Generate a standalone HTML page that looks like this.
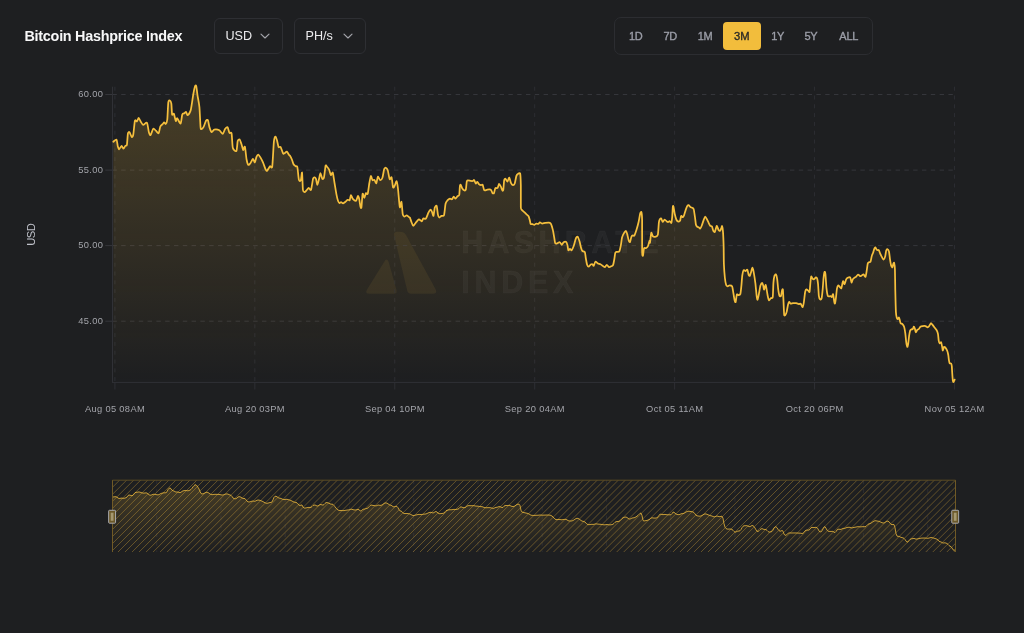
<!DOCTYPE html>
<html><head><meta charset="utf-8"><title>Bitcoin Hashprice Index</title>
<style>
html,body{margin:0;padding:0;}
body{width:1024px;height:633px;background:#1e1f21;overflow:hidden;position:relative;font-family:"Liberation Sans",sans-serif;}
.layer{position:absolute;left:0;top:0;width:1024px;height:633px;will-change:transform;}
.title{position:absolute;left:24.5px;top:27px;font-size:14.4px;font-weight:700;color:#f7f7f8;letter-spacing:-0.27px;line-height:18px;white-space:nowrap;}
.dd{position:absolute;top:18px;height:33.5px;border:1px solid #2e2f33;border-radius:6px;}
.dd span{position:absolute;left:11px;top:8.5px;font-size:12.6px;line-height:16px;color:#ececee;white-space:nowrap;}
.dd svg{position:absolute;top:12px;}
.rs{position:absolute;left:614px;top:17px;width:256.5px;height:35.5px;border:1px solid #2c2d31;border-radius:7px;}
.rs div{position:absolute;top:10.6px;font-size:11px;letter-spacing:-0.3px;line-height:14px;font-weight:400;-webkit-text-stroke:0.35px #9c9ea8;color:#9c9ea8;transform:translateX(-50%);white-space:nowrap;}
.rs .act{top:3.8px;left:107.8px;letter-spacing:0;font-size:11.2px;width:38px;height:28px;border-radius:4px;background:#f2bd3c;transform:none;-webkit-text-stroke:0}
.rs .act span{position:absolute;left:0;right:0;top:7.1px;text-align:center;color:#2b2a26;-webkit-text-stroke:0.35px #2b2a26;}
text.ax{font-family:"Liberation Sans",sans-serif;font-size:9.3px;letter-spacing:0.33px;fill:#a3a4aa;}
text.wm{font-family:"Liberation Sans",sans-serif;font-weight:bold;font-size:30.5px;letter-spacing:3.4px;fill:#ffffff;fill-opacity:0.041;stroke:#ffffff;stroke-opacity:0.041;stroke-width:0.5px;}
</style></head><body>
<div class="layer">
<svg width="1024" height="633" viewBox="0 0 1024 633" style="position:absolute;left:0;top:0">
<defs>
<linearGradient id="ag" x1="0" y1="85" x2="0" y2="382" gradientUnits="userSpaceOnUse">
<stop offset="0" stop-color="#f5bf3d" stop-opacity="0.20"/>
<stop offset="1" stop-color="#f5bf3d" stop-opacity="0"/>
</linearGradient>
<linearGradient id="ng" x1="0" y1="480" x2="0" y2="552" gradientUnits="userSpaceOnUse">
<stop offset="0" stop-color="#f5bf3d" stop-opacity="0.20"/>
<stop offset="1" stop-color="#f5bf3d" stop-opacity="0.0"/>
</linearGradient>
<clipPath id="nclip"><rect x="112.5" y="480.2" width="843.0" height="71.80000000000001"/></clipPath>
</defs>
<g id="wm">
<path d="M384.3,261.8 Q386.5,257.2 388.6,261.8 L396.6,290.5 Q397.2,293.8 394,293.8 L369.5,293.8 Q364.6,293.8 366.9,289.8 Z" fill="#f5bf3d" fill-opacity="0.075"/>
<path d="M394.3,236.2 Q392.8,231.6 397.5,231.7 L402,231.9 Q404.6,232.1 406,235 L435.6,289.3 Q437.6,293.8 433,293.8 L411,293.8 Q408,293.8 407.2,290.5 Z" fill="#f5bf3d" fill-opacity="0.075"/>
<text class="wm" x="461.2" y="252.6" style="letter-spacing:4.3px">HASHRATE</text>
<text class="wm" x="461.2" y="292.6" style="letter-spacing:4.75px">INDEX</text>
</g>
<line x1="112.4" y1="94.5" x2="955.0" y2="94.5" stroke="#35363b" stroke-width="1" stroke-dasharray="4.4 4.4"/>
<line x1="105.3" y1="94.5" x2="113.0" y2="94.5" stroke="#35363b" stroke-width="1"/>
<line x1="112.4" y1="170.1" x2="955.0" y2="170.1" stroke="#35363b" stroke-width="1" stroke-dasharray="4.4 4.4"/>
<line x1="105.3" y1="170.1" x2="113.0" y2="170.1" stroke="#35363b" stroke-width="1"/>
<line x1="112.4" y1="245.6" x2="955.0" y2="245.6" stroke="#35363b" stroke-width="1" stroke-dasharray="4.4 4.4"/>
<line x1="105.3" y1="245.6" x2="113.0" y2="245.6" stroke="#35363b" stroke-width="1"/>
<line x1="112.4" y1="321.2" x2="955.0" y2="321.2" stroke="#35363b" stroke-width="1" stroke-dasharray="4.4 4.4"/>
<line x1="105.3" y1="321.2" x2="113.0" y2="321.2" stroke="#35363b" stroke-width="1"/>
<line x1="114.9" y1="86.7" x2="114.9" y2="382.0" stroke="#2d2e33" stroke-width="1" stroke-dasharray="4 4.8"/>
<line x1="114.9" y1="382.0" x2="114.9" y2="389.5" stroke="#2d2e33" stroke-width="1.1"/>
<line x1="254.83" y1="86.7" x2="254.83" y2="382.0" stroke="#2d2e33" stroke-width="1" stroke-dasharray="4 4.8"/>
<line x1="254.83" y1="382.0" x2="254.83" y2="389.5" stroke="#2d2e33" stroke-width="1.1"/>
<line x1="394.76" y1="86.7" x2="394.76" y2="382.0" stroke="#2d2e33" stroke-width="1" stroke-dasharray="4 4.8"/>
<line x1="394.76" y1="382.0" x2="394.76" y2="389.5" stroke="#2d2e33" stroke-width="1.1"/>
<line x1="534.69" y1="86.7" x2="534.69" y2="382.0" stroke="#2d2e33" stroke-width="1" stroke-dasharray="4 4.8"/>
<line x1="534.69" y1="382.0" x2="534.69" y2="389.5" stroke="#2d2e33" stroke-width="1.1"/>
<line x1="674.62" y1="86.7" x2="674.62" y2="382.0" stroke="#2d2e33" stroke-width="1" stroke-dasharray="4 4.8"/>
<line x1="674.62" y1="382.0" x2="674.62" y2="389.5" stroke="#2d2e33" stroke-width="1.1"/>
<line x1="814.55" y1="86.7" x2="814.55" y2="382.0" stroke="#2d2e33" stroke-width="1" stroke-dasharray="4 4.8"/>
<line x1="814.55" y1="382.0" x2="814.55" y2="389.5" stroke="#2d2e33" stroke-width="1.1"/>
<line x1="954.48" y1="86.7" x2="954.48" y2="382.0" stroke="#2d2e33" stroke-width="1" stroke-dasharray="4 4.8"/>
<line x1="954.48" y1="382.0" x2="954.48" y2="389.5" stroke="#2d2e33" stroke-width="1.1"/>
<path d="M113.33,141.73 C113.71,141.47 115.97,139.04 116.50,139.57 C117.03,140.10 117.47,145.00 117.77,146.17 C118.07,147.34 118.58,149.40 119.04,149.35 C119.50,149.30 121.05,145.87 121.58,145.79 C122.11,145.71 123.03,148.71 123.49,148.71 C123.95,148.71 124.98,146.25 125.39,145.79 C125.80,145.33 126.61,146.38 126.91,144.90 C127.21,143.42 127.63,135.00 127.93,133.48 C128.23,131.96 128.99,131.80 129.45,132.21 C129.91,132.62 131.28,136.60 131.74,136.90 C132.20,137.20 132.88,136.68 133.26,134.75 C133.64,132.82 134.48,122.38 134.91,120.78 C135.34,119.18 136.36,121.75 136.82,121.42 C137.28,121.09 138.26,117.99 138.72,117.99 C139.18,117.99 140.09,120.60 140.62,121.42 C141.15,122.24 142.40,124.69 143.16,124.84 C143.92,124.99 146.28,121.81 146.97,122.69 C147.66,123.57 148.45,130.72 148.88,132.21 C149.31,133.70 150.00,135.56 150.53,135.13 C151.06,134.70 152.68,129.18 153.32,128.65 C153.96,128.12 155.22,130.13 155.86,130.68 C156.50,131.23 158.12,133.72 158.65,133.22 C159.18,132.72 159.80,127.60 160.30,126.49 C160.80,125.38 162.38,124.46 162.84,123.96 C163.30,123.46 163.76,122.30 164.11,122.30 C164.46,122.30 165.38,124.29 165.76,123.96 C166.14,123.63 166.99,122.10 167.29,119.51 C167.59,116.92 168.00,104.65 168.30,102.37 C168.60,100.09 169.45,100.32 169.82,100.47 C170.19,100.62 171.08,101.96 171.35,103.64 C171.62,105.32 171.81,113.21 172.11,114.43 C172.41,115.65 173.45,113.01 173.89,113.80 C174.33,114.59 175.39,120.51 175.79,121.04 C176.19,121.57 176.61,117.94 177.19,118.24 C177.77,118.54 180.01,124.03 180.62,123.57 C181.23,123.11 181.81,115.68 182.27,114.43 C182.73,113.18 183.96,113.46 184.42,113.16 C184.88,112.86 185.69,111.66 186.07,111.89 C186.45,112.12 187.04,115.30 187.60,115.07 C188.16,114.84 190.08,112.50 190.77,109.99 C191.46,107.48 192.81,96.94 193.31,94.12 C193.81,91.30 194.61,87.49 194.96,86.50 C195.31,85.51 195.93,84.80 196.23,85.87 C196.53,86.94 197.12,92.88 197.50,95.39 C197.88,97.90 199.03,103.01 199.40,106.82 C199.77,110.63 200.29,124.46 200.55,127.13 C200.81,129.80 201.21,129.03 201.56,129.03 C201.91,129.03 202.94,128.12 203.47,127.13 C204.00,126.14 205.48,121.62 206.01,120.78 C206.54,119.94 207.50,119.39 207.91,120.15 C208.32,120.91 208.97,125.68 209.43,127.13 C209.89,128.58 211.14,131.91 211.72,132.21 C212.30,132.51 213.35,129.90 214.26,129.67 C215.17,129.44 218.32,129.80 219.34,130.30 C220.36,130.80 222.07,134.01 222.76,133.86 C223.45,133.71 224.48,129.84 225.05,129.03 C225.62,128.22 227.01,126.68 227.54,127.14 C228.07,127.60 228.95,132.09 229.44,132.85 C229.93,133.61 231.19,131.66 231.60,133.49 C232.01,135.32 232.29,146.00 232.87,148.09 C233.45,150.18 235.85,151.72 236.43,150.88 C237.01,150.04 237.32,142.47 237.70,141.10 C238.08,139.73 239.14,139.07 239.60,139.45 C240.06,139.83 241.07,143.02 241.50,144.28 C241.93,145.54 242.74,149.69 243.15,149.99 C243.56,150.29 244.52,145.68 244.93,146.82 C245.34,147.96 246.18,157.35 246.58,159.51 C246.98,161.67 247.77,164.38 248.23,164.84 C248.69,165.30 249.83,164.04 250.39,163.32 C250.95,162.60 252.40,158.99 252.93,158.88 C253.46,158.77 254.40,162.66 254.83,162.43 C255.26,162.20 256.07,157.90 256.48,156.97 C256.89,156.04 257.77,154.61 258.26,154.69 C258.75,154.77 259.97,156.65 260.55,157.61 C261.13,158.57 262.48,161.27 263.09,162.69 C263.70,164.11 265.13,168.45 265.62,169.41 C266.11,170.37 266.62,171.06 267.15,170.68 C267.68,170.30 269.46,166.74 270.07,166.24 C270.68,165.74 271.77,169.43 272.23,166.49 C272.69,163.55 273.50,145.32 273.88,141.74 C274.26,138.16 275.02,136.81 275.40,136.66 C275.78,136.51 276.67,139.22 277.05,140.47 C277.43,141.72 278.14,146.28 278.57,147.07 C279.00,147.86 280.06,146.29 280.61,147.07 C281.16,147.85 282.65,152.81 283.14,153.54 C283.63,154.27 284.23,153.39 284.67,153.16 C285.11,152.93 286.30,151.41 286.83,151.64 C287.36,151.87 288.73,154.58 289.11,155.07 C289.49,155.56 289.67,155.18 290.00,155.71 C290.33,156.24 291.47,158.50 291.90,159.52 C292.33,160.54 293.09,163.41 293.55,164.22 C294.01,165.03 295.25,165.90 295.71,166.25 C296.17,166.60 296.98,165.51 297.36,167.14 C297.74,168.77 298.48,178.23 298.89,179.83 C299.30,181.43 300.41,181.34 300.79,180.47 C301.17,179.60 301.80,171.46 302.06,172.60 C302.32,173.74 302.65,187.64 302.95,189.99 C303.25,192.34 304.17,192.10 304.60,192.15 C305.03,192.20 306.00,190.89 306.50,190.37 C307.00,189.85 308.26,187.88 308.79,187.83 C309.32,187.78 310.43,191.10 310.95,189.99 C311.47,188.88 312.65,180.08 313.11,178.56 C313.57,177.04 314.41,177.24 314.76,177.29 C315.11,177.34 315.73,178.04 316.03,178.95 C316.33,179.86 316.94,184.88 317.29,184.91 C317.64,184.94 318.57,180.60 318.95,179.20 C319.33,177.80 320.06,173.26 320.47,173.23 C320.88,173.20 321.94,178.46 322.37,178.95 C322.80,179.44 323.64,178.86 324.02,177.29 C324.40,175.72 325.21,167.16 325.55,165.87 C325.89,164.58 326.39,166.04 326.82,166.50 C327.25,166.96 328.61,168.66 329.10,169.68 C329.59,170.70 330.44,174.66 330.88,175.01 C331.32,175.36 332.35,171.72 332.78,172.60 C333.21,173.48 334.00,179.83 334.43,182.37 C334.86,184.91 335.91,191.59 336.34,193.80 C336.77,196.01 337.61,199.67 337.99,200.78 C338.37,201.89 339.14,202.92 339.51,203.07 C339.88,203.22 340.61,202.02 341.04,202.05 C341.47,202.08 342.49,203.40 343.07,203.32 C343.65,203.24 345.30,201.85 345.86,201.42 C346.42,200.99 347.30,199.92 347.76,199.77 C348.22,199.62 349.29,200.71 349.67,200.15 C350.05,199.59 350.56,195.22 350.94,195.07 C351.32,194.92 352.23,198.19 352.84,198.88 C353.45,199.57 355.41,201.13 356.02,200.78 C356.63,200.43 357.54,196.19 357.92,195.96 C358.30,195.73 358.89,197.57 359.19,198.88 C359.49,200.19 360.19,205.89 360.46,206.88 C360.73,207.87 361.21,208.70 361.47,207.13 C361.73,205.56 362.28,194.90 362.62,193.80 C362.96,192.70 363.87,198.07 364.27,197.99 C364.67,197.91 365.51,193.66 365.92,193.16 C366.33,192.66 367.29,195.02 367.70,193.80 C368.11,192.58 368.97,185.14 369.35,183.01 C369.73,180.88 370.49,176.37 370.87,176.03 C371.25,175.69 372.09,179.75 372.52,180.21 C372.95,180.67 373.96,179.46 374.42,179.83 C374.88,180.20 375.92,183.64 376.33,183.26 C376.74,182.88 377.39,177.03 377.85,176.66 C378.31,176.29 379.59,180.09 380.14,180.21 C380.69,180.33 381.93,179.02 382.42,177.68 C382.91,176.34 383.79,170.23 384.20,169.04 C384.61,167.85 385.42,167.62 385.85,167.77 C386.28,167.92 387.29,168.94 387.75,170.31 C388.21,171.68 389.20,178.36 389.66,179.20 C390.12,180.04 391.15,176.30 391.56,177.29 C391.97,178.28 392.71,186.46 393.09,187.45 C393.47,188.44 394.31,186.31 394.74,185.55 C395.17,184.79 396.26,180.80 396.64,181.10 C397.02,181.40 397.53,184.97 397.91,188.09 C398.29,191.21 399.38,205.48 399.81,207.13 C400.24,208.78 401.11,200.96 401.46,201.80 C401.81,202.64 402.39,212.33 402.73,214.11 C403.07,215.89 403.77,216.50 404.26,216.65 C404.75,216.80 406.11,215.23 406.80,215.38 C407.49,215.53 409.59,217.63 409.97,217.92 C410.00,218.21 409.97,217.25 410.00,217.76 C410.19,218.27 411.14,221.25 411.52,222.21 C411.90,223.17 412.67,225.68 413.17,225.76 C413.67,225.84 415.02,223.60 415.71,222.84 C416.40,222.08 418.17,219.59 418.89,219.41 C419.61,219.23 421.15,221.44 421.68,221.32 C422.21,221.20 422.83,218.72 423.33,218.40 C423.83,218.08 425.26,219.34 425.87,218.65 C426.48,217.96 427.88,213.76 428.41,212.69 C428.94,211.62 429.90,209.92 430.31,209.77 C430.72,209.62 431.46,210.69 431.84,211.42 C432.22,212.15 433.14,216.32 433.49,215.86 C433.84,215.40 434.38,208.80 434.76,207.61 C435.14,206.42 436.28,205.12 436.66,205.96 C437.04,206.80 437.63,213.20 437.93,214.59 C438.23,215.98 438.77,217.36 439.20,217.51 C439.63,217.66 440.90,216.13 441.48,215.86 C442.06,215.59 443.53,216.67 444.02,215.22 C444.51,213.77 445.14,205.58 445.55,203.80 C445.96,202.02 446.92,200.98 447.45,200.37 C447.98,199.76 449.46,198.84 449.99,198.72 C450.52,198.60 451.43,199.62 451.89,199.36 C452.35,199.10 453.37,196.64 453.80,196.56 C454.23,196.48 454.99,198.77 455.45,198.72 C455.91,198.67 457.15,196.64 457.61,196.18 C458.07,195.72 458.99,196.13 459.26,194.91 C459.53,193.69 459.71,187.25 459.89,186.03 C460.07,184.81 460.49,184.46 460.78,184.76 C461.07,185.06 461.87,187.87 462.30,188.56 C462.73,189.25 463.91,190.36 464.34,190.47 C464.77,190.58 465.57,190.52 465.86,189.45 C466.15,188.38 466.52,182.68 466.75,181.58 C466.98,180.48 467.26,180.39 467.76,180.31 C468.26,180.23 470.33,180.87 470.94,180.95 C471.55,181.03 472.46,181.06 472.84,180.95 C473.22,180.84 473.76,179.76 474.11,180.06 C474.46,180.36 475.38,183.28 475.76,183.49 C476.14,183.70 476.88,181.73 477.29,181.84 C477.70,181.95 478.73,183.98 479.19,184.38 C479.65,184.78 480.68,185.09 481.09,185.14 C481.50,185.19 482.24,184.15 482.62,184.76 C483.00,185.37 483.77,189.60 484.27,190.21 C484.77,190.82 486.20,189.92 486.81,189.83 C487.42,189.74 488.82,189.40 489.35,189.45 C489.88,189.50 490.87,189.75 491.25,190.21 C491.63,190.67 492.19,192.92 492.52,193.26 C492.85,193.60 493.71,193.62 494.04,193.01 C494.37,192.40 494.88,188.79 495.31,188.18 C495.74,187.57 497.14,188.45 497.60,187.93 C498.06,187.41 498.74,184.05 499.12,183.87 C499.50,183.69 500.37,185.62 500.77,186.41 C501.17,187.20 502.12,190.06 502.42,190.47 C502.72,190.88 503.10,191.08 503.31,189.83 C503.52,188.58 503.94,181.38 504.20,180.06 C504.46,178.74 505.07,178.61 505.47,178.79 C505.87,178.97 507.04,181.73 507.50,181.58 C507.96,181.43 508.87,177.37 509.28,177.52 C509.69,177.67 510.50,181.94 510.93,182.85 C511.36,183.76 512.37,185.06 512.83,185.14 C513.29,185.22 514.31,184.60 514.74,183.49 C515.17,182.38 515.98,177.04 516.39,175.87 C516.80,174.70 517.70,173.97 518.16,173.71 C518.62,173.45 519.88,172.31 520.20,173.71 C520.52,175.11 520.75,181.40 520.83,185.39 C520.83,189.38 520.83,204.04 520.83,206.97 C520.94,209.90 521.31,209.16 521.72,209.77 C522.13,210.38 523.68,211.50 524.26,212.05 C524.84,212.60 526.01,213.81 526.54,214.34 C527.07,214.87 528.29,215.70 528.70,216.49 C529.11,217.28 529.74,220.04 529.97,220.94 C530.20,221.84 530.32,223.56 530.63,223.95 C530.94,224.34 532.08,224.09 532.54,224.20 C533.00,224.31 533.98,224.91 534.44,224.83 C534.90,224.75 535.89,223.67 536.35,223.56 C536.81,223.45 537.82,224.10 538.25,223.95 C538.68,223.80 539.44,222.34 539.90,222.29 C540.36,222.24 541.42,223.48 542.06,223.56 C542.70,223.64 544.39,223.04 545.23,222.93 C546.07,222.82 548.35,222.56 549.04,222.68 C549.73,222.80 550.49,223.08 550.95,223.95 C551.41,224.82 552.47,228.36 552.85,229.91 C553.23,231.46 553.85,235.32 554.12,236.89 C554.39,238.46 554.84,242.18 555.14,242.99 C555.44,243.80 556.10,243.71 556.66,243.62 C557.22,243.53 559.22,242.08 559.83,242.23 C560.44,242.38 561.28,244.89 561.74,244.89 C562.20,244.89 563.11,242.58 563.64,242.23 C564.17,241.88 565.72,241.62 566.18,241.97 C566.64,242.32 567.19,244.16 567.45,245.15 C567.71,246.14 568.04,249.76 568.34,250.22 C568.64,250.68 569.59,248.96 569.99,248.96 C570.39,248.96 571.18,250.60 571.64,250.22 C572.10,249.84 573.28,247.23 573.80,245.78 C574.32,244.33 575.50,239.26 575.96,238.16 C576.42,237.06 577.18,236.26 577.61,236.64 C578.04,237.02 579.10,240.01 579.51,241.34 C579.92,242.67 580.71,246.55 581.04,247.69 C581.37,248.83 581.84,250.33 582.30,250.86 C582.76,251.39 584.41,251.22 584.84,252.13 C585.27,253.04 585.59,256.96 585.86,258.48 C586.13,260.00 586.80,263.83 587.13,264.82 C587.46,265.81 588.22,266.76 588.65,266.73 C589.08,266.70 590.22,264.87 590.68,264.57 C591.14,264.27 592.09,264.04 592.46,264.19 C592.83,264.34 593.38,266.14 593.73,265.84 C594.08,265.54 594.88,261.92 595.38,261.65 C595.88,261.38 597.31,263.25 597.92,263.55 C598.53,263.85 599.85,263.89 600.46,264.19 C601.07,264.49 602.47,265.74 603.00,266.09 C603.53,266.44 604.44,267.26 604.90,267.11 C605.36,266.96 606.32,264.82 606.81,264.82 C607.30,264.82 608.43,266.93 608.96,267.11 C609.49,267.29 610.75,266.62 611.25,266.35 C611.75,266.08 612.77,265.76 613.15,264.82 C613.53,263.88 614.16,259.93 614.42,258.48 C614.68,257.03 615.01,253.55 615.31,252.76 C615.61,251.97 616.49,252.03 616.96,251.88 C617.43,251.73 618.79,252.22 619.25,251.49 C619.71,250.76 620.44,247.46 620.77,245.78 C621.10,244.10 621.66,239.05 622.04,237.53 C622.42,236.01 623.49,233.88 623.95,233.09 C624.41,232.30 625.47,230.85 625.85,230.93 C626.23,231.01 626.77,232.55 627.12,233.72 C627.47,234.89 628.42,239.71 628.77,240.70 C629.12,241.69 629.71,242.50 630.04,241.97 C630.37,241.44 631.19,237.05 631.56,236.26 C631.93,235.47 632.75,235.45 633.09,235.37 C633.43,235.29 633.93,236.35 634.36,235.62 C634.79,234.89 636.14,230.88 636.64,229.28 C637.14,227.68 638.11,224.19 638.54,222.29 C638.97,220.39 639.85,214.63 640.20,213.41 C640.55,212.19 641.23,211.38 641.46,212.14 C641.69,212.90 642.02,214.96 642.10,219.76 C642.15,224.56 642.10,247.82 642.15,252.13 C642.26,256.44 642.77,256.14 642.99,255.68 C643.21,255.22 643.62,249.23 644.00,248.32 C644.38,247.41 645.67,248.37 646.16,248.07 C646.65,247.77 647.66,246.66 648.07,245.78 C648.48,244.90 649.36,241.08 649.59,240.70 C649.82,240.32 649.80,243.55 650.00,242.61 C650.20,241.67 650.94,233.59 651.27,232.83 C651.60,232.07 652.26,235.80 652.79,236.26 C653.32,236.72 655.10,236.84 655.71,236.64 C656.32,236.44 657.49,236.33 657.87,234.61 C658.25,232.89 658.65,224.15 658.89,222.29 C659.13,220.43 659.63,219.58 659.90,219.12 C660.17,218.66 660.83,218.16 661.17,218.49 C661.51,218.82 662.29,221.79 662.70,221.91 C663.11,222.03 664.11,219.56 664.60,219.50 C665.09,219.44 666.35,221.11 666.76,221.41 C667.17,221.71 667.68,222.09 668.03,222.04 C668.38,221.99 669.28,220.92 669.68,221.03 C670.08,221.14 671.03,223.46 671.33,222.93 C671.63,222.40 672.04,218.53 672.22,216.58 C672.40,214.63 672.70,207.87 672.85,206.68 C673.00,205.49 673.26,205.80 673.49,206.68 C673.72,207.56 674.41,212.47 674.76,214.04 C675.11,215.61 675.95,218.85 676.41,219.76 C676.87,220.67 678.10,221.58 678.56,221.66 C679.02,221.74 679.91,221.08 680.21,220.39 C680.51,219.70 680.80,216.33 681.10,215.95 C681.40,215.57 682.40,217.30 682.75,217.22 C683.10,217.14 683.65,216.22 684.02,215.31 C684.39,214.40 685.39,210.74 685.80,209.60 C686.21,208.46 687.10,206.32 687.45,205.79 C687.80,205.26 688.37,205.01 688.72,205.16 C689.07,205.31 689.91,206.73 690.37,207.06 C690.83,207.39 692.12,207.65 692.53,207.95 C692.94,208.25 693.50,208.41 693.80,209.60 C694.10,210.79 694.81,216.02 695.07,217.85 C695.33,219.68 695.70,223.76 695.96,224.83 C696.22,225.90 696.88,226.44 697.23,226.74 C697.58,227.04 698.53,227.14 698.88,227.37 C699.23,227.60 699.80,228.87 700.15,228.64 C700.50,228.41 701.34,226.61 701.80,225.47 C702.26,224.33 703.55,220.19 703.96,219.12 C704.37,218.05 704.87,216.58 705.22,216.58 C705.57,216.58 706.47,218.36 706.88,219.12 C707.29,219.88 708.24,222.12 708.65,222.93 C709.06,223.74 709.90,225.42 710.30,225.85 C710.70,226.28 711.60,225.92 711.95,226.48 C712.30,227.04 712.88,229.88 713.22,230.55 C713.56,231.22 714.41,232.37 714.75,232.07 C715.09,231.77 715.76,228.76 716.02,228.01 C716.28,227.26 716.60,225.62 716.90,225.85 C717.20,226.08 718.17,229.32 718.55,229.91 C718.93,230.50 719.74,231.03 720.08,230.80 C720.42,230.57 721.11,228.57 721.35,228.01 C721.59,227.45 721.91,225.64 722.11,226.10 C722.31,226.56 722.82,229.46 723.00,231.82 C723.18,234.18 723.52,241.91 723.63,245.78 C723.74,249.65 723.74,260.17 723.89,264.04 C724.04,267.91 724.63,275.50 724.90,278.01 C725.17,280.52 725.83,284.00 726.17,284.99 C726.51,285.98 727.29,286.21 727.70,286.26 C728.11,286.31 729.07,285.37 729.60,285.37 C730.13,285.37 731.68,285.32 732.14,286.26 C732.60,287.20 733.11,291.52 733.41,293.24 C733.71,294.96 734.41,299.57 734.68,300.61 C734.95,301.65 735.43,302.61 735.69,301.88 C735.95,301.15 736.50,295.32 736.84,294.51 C737.18,293.70 738.06,295.23 738.49,295.15 C738.92,295.07 740.04,295.02 740.39,293.88 C740.74,292.74 741.18,287.83 741.41,285.62 C741.64,283.41 742.03,277.33 742.29,275.47 C742.55,273.61 743.18,270.67 743.56,270.14 C743.94,269.61 745.01,271.08 745.47,271.03 C745.93,270.98 746.99,269.30 747.37,269.76 C747.75,270.22 748.34,274.11 748.64,274.83 C748.94,275.55 749.61,276.10 749.91,275.72 C750.21,275.34 750.88,272.63 751.18,271.66 C751.48,270.69 752.15,267.52 752.45,267.60 C752.75,267.68 753.37,270.43 753.72,272.29 C754.07,274.15 755.02,280.27 755.37,283.09 C755.72,285.91 756.38,293.77 756.64,295.78 C756.90,297.79 757.27,299.99 757.53,299.84 C757.79,299.69 758.45,296.22 758.80,294.51 C759.15,292.80 760.04,287.02 760.45,285.62 C760.86,284.22 761.90,282.83 762.23,282.83 C762.56,282.83 763.01,284.80 763.24,285.62 C763.47,286.44 763.86,289.77 764.13,289.69 C764.40,289.61 765.26,285.17 765.53,284.99 C765.80,284.81 766.16,286.87 766.42,288.16 C766.68,289.45 767.39,294.33 767.69,295.78 C767.99,297.23 768.58,299.95 768.96,300.22 C769.34,300.49 770.40,298.45 770.86,298.07 C771.32,297.69 772.46,298.85 772.76,297.05 C773.06,295.25 773.20,285.60 773.40,283.09 C773.60,280.58 774.11,277.14 774.41,276.10 C774.71,275.06 775.60,274.07 775.94,274.45 C776.28,274.83 776.94,277.48 777.21,279.28 C777.48,281.08 777.95,287.45 778.22,289.43 C778.49,291.41 779.15,295.02 779.49,295.78 C779.83,296.54 780.72,296.42 781.02,295.78 C781.32,295.14 781.80,291.18 782.03,290.45 C782.26,289.72 782.74,288.29 782.92,289.69 C783.10,291.09 783.40,299.11 783.55,302.13 C783.70,305.15 783.96,313.30 784.19,314.82 C784.42,316.34 785.16,315.20 785.46,314.82 C785.76,314.44 786.43,312.87 786.73,311.65 C787.03,310.43 787.70,305.84 788.00,304.67 C788.30,303.50 788.97,302.00 789.27,301.88 C789.57,301.76 790.08,303.50 790.54,303.65 C791.00,303.80 792.39,303.20 793.08,303.14 C793.77,303.08 795.56,303.03 796.25,303.14 C796.94,303.25 798.26,303.95 798.79,304.03 C799.32,304.11 800.23,303.40 800.69,303.78 C801.15,304.16 802.22,307.41 802.60,307.21 C802.98,307.01 803.57,303.96 803.87,302.13 C804.17,300.30 804.84,293.49 805.14,291.97 C805.44,290.45 806.03,289.58 806.41,289.43 C806.79,289.28 807.93,290.43 808.31,290.70 C808.69,290.97 809.32,292.79 809.58,291.72 C809.84,290.65 810.27,283.65 810.47,281.82 C810.67,279.99 810.99,276.86 811.23,276.48 C811.47,276.10 812.17,278.30 812.50,278.64 C812.83,278.98 813.61,279.43 814.02,279.28 C814.43,279.13 815.55,277.45 815.93,277.37 C816.31,277.29 816.94,277.80 817.20,278.64 C817.46,279.48 817.89,282.30 818.09,284.36 C818.29,286.42 818.61,293.98 818.85,295.78 C819.09,297.58 819.79,299.04 820.12,299.34 C820.45,299.64 821.34,299.51 821.64,298.32 C821.94,297.13 822.43,291.87 822.66,289.43 C822.89,286.99 823.31,280.11 823.54,278.01 C823.77,275.91 824.33,272.37 824.56,271.91 C824.79,271.45 825.22,272.25 825.45,274.20 C825.68,276.15 826.19,285.57 826.46,288.16 C826.73,290.75 827.39,294.79 827.73,295.78 C828.07,296.77 828.92,296.39 829.26,296.42 C829.60,296.45 830.23,295.96 830.53,296.04 C830.83,296.12 831.50,297.26 831.80,297.05 C832.10,296.84 832.77,293.65 833.07,294.26 C833.37,294.87 834.11,301.02 834.34,302.13 C834.57,303.24 834.80,304.08 835.00,303.48 C835.20,302.88 835.79,298.88 836.02,297.13 C836.25,295.38 836.64,290.28 836.90,288.88 C837.16,287.48 837.82,285.68 838.17,285.45 C838.52,285.22 839.44,286.64 839.82,286.97 C840.20,287.30 841.01,288.77 841.35,288.24 C841.69,287.71 842.39,283.37 842.62,282.53 C842.85,281.69 843.02,281.06 843.25,281.26 C843.48,281.46 844.17,284.41 844.52,284.18 C844.87,283.95 845.79,280.12 846.17,279.36 C846.55,278.60 847.21,278.06 847.70,277.83 C848.19,277.60 849.77,276.89 850.23,277.45 C850.69,278.01 851.20,282.30 851.50,282.53 C851.80,282.76 852.47,279.89 852.77,279.36 C853.07,278.83 853.66,278.39 854.04,278.09 C854.42,277.79 855.46,277.25 855.95,276.82 C856.44,276.39 857.61,274.61 858.11,274.53 C858.61,274.45 859.71,276.06 860.14,276.18 C860.57,276.30 861.25,275.78 861.66,275.55 C862.07,275.32 863.10,274.13 863.56,274.28 C864.02,274.43 865.09,277.28 865.47,276.82 C865.85,276.36 866.47,272.07 866.74,270.47 C867.01,268.87 867.48,264.48 867.75,263.49 C868.02,262.50 868.68,262.45 869.02,262.22 C869.36,261.99 870.21,262.34 870.55,261.58 C870.89,260.82 871.52,256.94 871.82,255.87 C872.12,254.80 872.79,253.57 873.09,252.70 C873.39,251.83 874.09,249.27 874.36,248.63 C874.63,247.99 875.07,247.21 875.37,247.36 C875.67,247.51 876.48,249.56 876.89,249.90 C877.30,250.24 878.42,249.75 878.80,250.16 C879.18,250.57 879.69,252.49 880.07,253.33 C880.45,254.17 881.54,256.38 881.97,257.14 C882.40,257.90 883.24,259.76 883.62,259.68 C884.00,259.60 884.85,257.57 885.15,256.50 C885.45,255.43 885.90,251.67 886.16,250.79 C886.42,249.91 886.96,249.06 887.30,249.14 C887.64,249.22 888.64,250.24 888.96,251.43 C889.28,252.62 889.71,257.36 889.97,259.04 C890.23,260.72 890.82,264.40 891.11,265.39 C891.40,266.38 892.11,267.52 892.38,267.29 C892.65,267.06 893.19,264.02 893.40,263.49 C893.61,262.96 893.98,262.16 894.16,262.85 C894.34,263.54 894.78,265.85 894.92,269.20 C895.06,272.55 895.18,285.63 895.30,290.78 C895.42,295.93 895.74,308.87 895.92,312.11 C896.10,315.35 896.56,316.95 896.78,317.80 C897.00,318.65 897.51,319.25 897.77,319.22 C898.03,319.19 898.65,317.34 898.91,317.51 C899.17,317.68 899.70,319.96 899.91,320.64 C900.12,321.32 900.31,322.77 900.62,323.20 C900.93,323.63 902.03,323.73 902.46,324.19 C902.89,324.65 903.83,325.93 904.17,327.04 C904.51,328.15 905.05,331.56 905.31,333.44 C905.57,335.32 906.06,341.06 906.30,342.68 C906.54,344.30 907.08,346.77 907.30,346.94 C907.52,347.11 907.93,345.46 908.15,344.10 C908.37,342.74 908.91,337.19 909.15,335.57 C909.39,333.95 909.85,331.36 910.14,330.59 C910.43,329.82 911.25,329.34 911.56,329.17 C911.87,329.00 912.43,329.48 912.70,329.17 C912.97,328.86 913.58,326.70 913.84,326.61 C914.10,326.52 914.59,327.78 914.83,328.46 C915.07,329.14 915.54,332.13 915.83,332.30 C916.12,332.47 916.91,330.26 917.25,329.88 C917.59,329.50 918.28,329.56 918.67,329.17 C919.06,328.78 920.04,326.99 920.52,326.61 C921.00,326.23 922.05,326.11 922.65,326.04 C923.25,325.97 924.90,325.87 925.50,326.04 C926.10,326.21 927.20,327.43 927.63,327.46 C928.06,327.49 928.66,326.84 929.05,326.33 C929.44,325.82 930.47,323.37 930.90,323.20 C931.33,323.03 932.15,324.36 932.61,324.91 C933.07,325.46 934.23,327.07 934.74,327.75 C935.25,328.43 936.48,329.82 936.87,330.59 C937.26,331.36 937.79,332.95 938.01,334.15 C938.23,335.35 938.51,339.44 938.72,340.55 C938.93,341.66 939.43,343.19 939.72,343.39 C940.01,343.59 940.83,341.74 941.14,342.25 C941.45,342.76 942.07,346.66 942.27,347.65 C942.47,348.64 942.63,350.59 942.84,350.50 C943.05,350.41 943.67,347.28 943.98,346.94 C944.29,346.60 945.02,347.22 945.40,347.65 C945.78,348.08 946.77,349.65 947.11,350.50 C947.45,351.35 948.03,353.57 948.25,354.76 C948.47,355.95 948.79,359.43 948.96,360.45 C949.13,361.47 949.41,362.91 949.67,363.29 C949.93,363.67 950.83,363.24 951.09,363.58 C951.35,363.92 951.66,364.98 951.80,366.14 C951.94,367.30 952.11,371.54 952.23,373.25 C952.35,374.96 952.65,379.30 952.80,380.36 C952.95,381.42 953.29,382.15 953.51,382.06 C953.73,381.97 954.50,379.93 954.64,379.64 L954.64,382.0 L113.33,382.0 Z" fill="url(#ag)"/>
<line x1="112.5" y1="86.7" x2="112.5" y2="382.8" stroke="#303136" stroke-width="1"/>
<line x1="112" y1="382.4" x2="955.0" y2="382.4" stroke="#303136" stroke-width="1"/>
<path d="M113.33,141.73 C113.71,141.47 115.97,139.04 116.50,139.57 C117.03,140.10 117.47,145.00 117.77,146.17 C118.07,147.34 118.58,149.40 119.04,149.35 C119.50,149.30 121.05,145.87 121.58,145.79 C122.11,145.71 123.03,148.71 123.49,148.71 C123.95,148.71 124.98,146.25 125.39,145.79 C125.80,145.33 126.61,146.38 126.91,144.90 C127.21,143.42 127.63,135.00 127.93,133.48 C128.23,131.96 128.99,131.80 129.45,132.21 C129.91,132.62 131.28,136.60 131.74,136.90 C132.20,137.20 132.88,136.68 133.26,134.75 C133.64,132.82 134.48,122.38 134.91,120.78 C135.34,119.18 136.36,121.75 136.82,121.42 C137.28,121.09 138.26,117.99 138.72,117.99 C139.18,117.99 140.09,120.60 140.62,121.42 C141.15,122.24 142.40,124.69 143.16,124.84 C143.92,124.99 146.28,121.81 146.97,122.69 C147.66,123.57 148.45,130.72 148.88,132.21 C149.31,133.70 150.00,135.56 150.53,135.13 C151.06,134.70 152.68,129.18 153.32,128.65 C153.96,128.12 155.22,130.13 155.86,130.68 C156.50,131.23 158.12,133.72 158.65,133.22 C159.18,132.72 159.80,127.60 160.30,126.49 C160.80,125.38 162.38,124.46 162.84,123.96 C163.30,123.46 163.76,122.30 164.11,122.30 C164.46,122.30 165.38,124.29 165.76,123.96 C166.14,123.63 166.99,122.10 167.29,119.51 C167.59,116.92 168.00,104.65 168.30,102.37 C168.60,100.09 169.45,100.32 169.82,100.47 C170.19,100.62 171.08,101.96 171.35,103.64 C171.62,105.32 171.81,113.21 172.11,114.43 C172.41,115.65 173.45,113.01 173.89,113.80 C174.33,114.59 175.39,120.51 175.79,121.04 C176.19,121.57 176.61,117.94 177.19,118.24 C177.77,118.54 180.01,124.03 180.62,123.57 C181.23,123.11 181.81,115.68 182.27,114.43 C182.73,113.18 183.96,113.46 184.42,113.16 C184.88,112.86 185.69,111.66 186.07,111.89 C186.45,112.12 187.04,115.30 187.60,115.07 C188.16,114.84 190.08,112.50 190.77,109.99 C191.46,107.48 192.81,96.94 193.31,94.12 C193.81,91.30 194.61,87.49 194.96,86.50 C195.31,85.51 195.93,84.80 196.23,85.87 C196.53,86.94 197.12,92.88 197.50,95.39 C197.88,97.90 199.03,103.01 199.40,106.82 C199.77,110.63 200.29,124.46 200.55,127.13 C200.81,129.80 201.21,129.03 201.56,129.03 C201.91,129.03 202.94,128.12 203.47,127.13 C204.00,126.14 205.48,121.62 206.01,120.78 C206.54,119.94 207.50,119.39 207.91,120.15 C208.32,120.91 208.97,125.68 209.43,127.13 C209.89,128.58 211.14,131.91 211.72,132.21 C212.30,132.51 213.35,129.90 214.26,129.67 C215.17,129.44 218.32,129.80 219.34,130.30 C220.36,130.80 222.07,134.01 222.76,133.86 C223.45,133.71 224.48,129.84 225.05,129.03 C225.62,128.22 227.01,126.68 227.54,127.14 C228.07,127.60 228.95,132.09 229.44,132.85 C229.93,133.61 231.19,131.66 231.60,133.49 C232.01,135.32 232.29,146.00 232.87,148.09 C233.45,150.18 235.85,151.72 236.43,150.88 C237.01,150.04 237.32,142.47 237.70,141.10 C238.08,139.73 239.14,139.07 239.60,139.45 C240.06,139.83 241.07,143.02 241.50,144.28 C241.93,145.54 242.74,149.69 243.15,149.99 C243.56,150.29 244.52,145.68 244.93,146.82 C245.34,147.96 246.18,157.35 246.58,159.51 C246.98,161.67 247.77,164.38 248.23,164.84 C248.69,165.30 249.83,164.04 250.39,163.32 C250.95,162.60 252.40,158.99 252.93,158.88 C253.46,158.77 254.40,162.66 254.83,162.43 C255.26,162.20 256.07,157.90 256.48,156.97 C256.89,156.04 257.77,154.61 258.26,154.69 C258.75,154.77 259.97,156.65 260.55,157.61 C261.13,158.57 262.48,161.27 263.09,162.69 C263.70,164.11 265.13,168.45 265.62,169.41 C266.11,170.37 266.62,171.06 267.15,170.68 C267.68,170.30 269.46,166.74 270.07,166.24 C270.68,165.74 271.77,169.43 272.23,166.49 C272.69,163.55 273.50,145.32 273.88,141.74 C274.26,138.16 275.02,136.81 275.40,136.66 C275.78,136.51 276.67,139.22 277.05,140.47 C277.43,141.72 278.14,146.28 278.57,147.07 C279.00,147.86 280.06,146.29 280.61,147.07 C281.16,147.85 282.65,152.81 283.14,153.54 C283.63,154.27 284.23,153.39 284.67,153.16 C285.11,152.93 286.30,151.41 286.83,151.64 C287.36,151.87 288.73,154.58 289.11,155.07 C289.49,155.56 289.67,155.18 290.00,155.71 C290.33,156.24 291.47,158.50 291.90,159.52 C292.33,160.54 293.09,163.41 293.55,164.22 C294.01,165.03 295.25,165.90 295.71,166.25 C296.17,166.60 296.98,165.51 297.36,167.14 C297.74,168.77 298.48,178.23 298.89,179.83 C299.30,181.43 300.41,181.34 300.79,180.47 C301.17,179.60 301.80,171.46 302.06,172.60 C302.32,173.74 302.65,187.64 302.95,189.99 C303.25,192.34 304.17,192.10 304.60,192.15 C305.03,192.20 306.00,190.89 306.50,190.37 C307.00,189.85 308.26,187.88 308.79,187.83 C309.32,187.78 310.43,191.10 310.95,189.99 C311.47,188.88 312.65,180.08 313.11,178.56 C313.57,177.04 314.41,177.24 314.76,177.29 C315.11,177.34 315.73,178.04 316.03,178.95 C316.33,179.86 316.94,184.88 317.29,184.91 C317.64,184.94 318.57,180.60 318.95,179.20 C319.33,177.80 320.06,173.26 320.47,173.23 C320.88,173.20 321.94,178.46 322.37,178.95 C322.80,179.44 323.64,178.86 324.02,177.29 C324.40,175.72 325.21,167.16 325.55,165.87 C325.89,164.58 326.39,166.04 326.82,166.50 C327.25,166.96 328.61,168.66 329.10,169.68 C329.59,170.70 330.44,174.66 330.88,175.01 C331.32,175.36 332.35,171.72 332.78,172.60 C333.21,173.48 334.00,179.83 334.43,182.37 C334.86,184.91 335.91,191.59 336.34,193.80 C336.77,196.01 337.61,199.67 337.99,200.78 C338.37,201.89 339.14,202.92 339.51,203.07 C339.88,203.22 340.61,202.02 341.04,202.05 C341.47,202.08 342.49,203.40 343.07,203.32 C343.65,203.24 345.30,201.85 345.86,201.42 C346.42,200.99 347.30,199.92 347.76,199.77 C348.22,199.62 349.29,200.71 349.67,200.15 C350.05,199.59 350.56,195.22 350.94,195.07 C351.32,194.92 352.23,198.19 352.84,198.88 C353.45,199.57 355.41,201.13 356.02,200.78 C356.63,200.43 357.54,196.19 357.92,195.96 C358.30,195.73 358.89,197.57 359.19,198.88 C359.49,200.19 360.19,205.89 360.46,206.88 C360.73,207.87 361.21,208.70 361.47,207.13 C361.73,205.56 362.28,194.90 362.62,193.80 C362.96,192.70 363.87,198.07 364.27,197.99 C364.67,197.91 365.51,193.66 365.92,193.16 C366.33,192.66 367.29,195.02 367.70,193.80 C368.11,192.58 368.97,185.14 369.35,183.01 C369.73,180.88 370.49,176.37 370.87,176.03 C371.25,175.69 372.09,179.75 372.52,180.21 C372.95,180.67 373.96,179.46 374.42,179.83 C374.88,180.20 375.92,183.64 376.33,183.26 C376.74,182.88 377.39,177.03 377.85,176.66 C378.31,176.29 379.59,180.09 380.14,180.21 C380.69,180.33 381.93,179.02 382.42,177.68 C382.91,176.34 383.79,170.23 384.20,169.04 C384.61,167.85 385.42,167.62 385.85,167.77 C386.28,167.92 387.29,168.94 387.75,170.31 C388.21,171.68 389.20,178.36 389.66,179.20 C390.12,180.04 391.15,176.30 391.56,177.29 C391.97,178.28 392.71,186.46 393.09,187.45 C393.47,188.44 394.31,186.31 394.74,185.55 C395.17,184.79 396.26,180.80 396.64,181.10 C397.02,181.40 397.53,184.97 397.91,188.09 C398.29,191.21 399.38,205.48 399.81,207.13 C400.24,208.78 401.11,200.96 401.46,201.80 C401.81,202.64 402.39,212.33 402.73,214.11 C403.07,215.89 403.77,216.50 404.26,216.65 C404.75,216.80 406.11,215.23 406.80,215.38 C407.49,215.53 409.59,217.63 409.97,217.92 C410.00,218.21 409.97,217.25 410.00,217.76 C410.19,218.27 411.14,221.25 411.52,222.21 C411.90,223.17 412.67,225.68 413.17,225.76 C413.67,225.84 415.02,223.60 415.71,222.84 C416.40,222.08 418.17,219.59 418.89,219.41 C419.61,219.23 421.15,221.44 421.68,221.32 C422.21,221.20 422.83,218.72 423.33,218.40 C423.83,218.08 425.26,219.34 425.87,218.65 C426.48,217.96 427.88,213.76 428.41,212.69 C428.94,211.62 429.90,209.92 430.31,209.77 C430.72,209.62 431.46,210.69 431.84,211.42 C432.22,212.15 433.14,216.32 433.49,215.86 C433.84,215.40 434.38,208.80 434.76,207.61 C435.14,206.42 436.28,205.12 436.66,205.96 C437.04,206.80 437.63,213.20 437.93,214.59 C438.23,215.98 438.77,217.36 439.20,217.51 C439.63,217.66 440.90,216.13 441.48,215.86 C442.06,215.59 443.53,216.67 444.02,215.22 C444.51,213.77 445.14,205.58 445.55,203.80 C445.96,202.02 446.92,200.98 447.45,200.37 C447.98,199.76 449.46,198.84 449.99,198.72 C450.52,198.60 451.43,199.62 451.89,199.36 C452.35,199.10 453.37,196.64 453.80,196.56 C454.23,196.48 454.99,198.77 455.45,198.72 C455.91,198.67 457.15,196.64 457.61,196.18 C458.07,195.72 458.99,196.13 459.26,194.91 C459.53,193.69 459.71,187.25 459.89,186.03 C460.07,184.81 460.49,184.46 460.78,184.76 C461.07,185.06 461.87,187.87 462.30,188.56 C462.73,189.25 463.91,190.36 464.34,190.47 C464.77,190.58 465.57,190.52 465.86,189.45 C466.15,188.38 466.52,182.68 466.75,181.58 C466.98,180.48 467.26,180.39 467.76,180.31 C468.26,180.23 470.33,180.87 470.94,180.95 C471.55,181.03 472.46,181.06 472.84,180.95 C473.22,180.84 473.76,179.76 474.11,180.06 C474.46,180.36 475.38,183.28 475.76,183.49 C476.14,183.70 476.88,181.73 477.29,181.84 C477.70,181.95 478.73,183.98 479.19,184.38 C479.65,184.78 480.68,185.09 481.09,185.14 C481.50,185.19 482.24,184.15 482.62,184.76 C483.00,185.37 483.77,189.60 484.27,190.21 C484.77,190.82 486.20,189.92 486.81,189.83 C487.42,189.74 488.82,189.40 489.35,189.45 C489.88,189.50 490.87,189.75 491.25,190.21 C491.63,190.67 492.19,192.92 492.52,193.26 C492.85,193.60 493.71,193.62 494.04,193.01 C494.37,192.40 494.88,188.79 495.31,188.18 C495.74,187.57 497.14,188.45 497.60,187.93 C498.06,187.41 498.74,184.05 499.12,183.87 C499.50,183.69 500.37,185.62 500.77,186.41 C501.17,187.20 502.12,190.06 502.42,190.47 C502.72,190.88 503.10,191.08 503.31,189.83 C503.52,188.58 503.94,181.38 504.20,180.06 C504.46,178.74 505.07,178.61 505.47,178.79 C505.87,178.97 507.04,181.73 507.50,181.58 C507.96,181.43 508.87,177.37 509.28,177.52 C509.69,177.67 510.50,181.94 510.93,182.85 C511.36,183.76 512.37,185.06 512.83,185.14 C513.29,185.22 514.31,184.60 514.74,183.49 C515.17,182.38 515.98,177.04 516.39,175.87 C516.80,174.70 517.70,173.97 518.16,173.71 C518.62,173.45 519.88,172.31 520.20,173.71 C520.52,175.11 520.75,181.40 520.83,185.39 C520.83,189.38 520.83,204.04 520.83,206.97 C520.94,209.90 521.31,209.16 521.72,209.77 C522.13,210.38 523.68,211.50 524.26,212.05 C524.84,212.60 526.01,213.81 526.54,214.34 C527.07,214.87 528.29,215.70 528.70,216.49 C529.11,217.28 529.74,220.04 529.97,220.94 C530.20,221.84 530.32,223.56 530.63,223.95 C530.94,224.34 532.08,224.09 532.54,224.20 C533.00,224.31 533.98,224.91 534.44,224.83 C534.90,224.75 535.89,223.67 536.35,223.56 C536.81,223.45 537.82,224.10 538.25,223.95 C538.68,223.80 539.44,222.34 539.90,222.29 C540.36,222.24 541.42,223.48 542.06,223.56 C542.70,223.64 544.39,223.04 545.23,222.93 C546.07,222.82 548.35,222.56 549.04,222.68 C549.73,222.80 550.49,223.08 550.95,223.95 C551.41,224.82 552.47,228.36 552.85,229.91 C553.23,231.46 553.85,235.32 554.12,236.89 C554.39,238.46 554.84,242.18 555.14,242.99 C555.44,243.80 556.10,243.71 556.66,243.62 C557.22,243.53 559.22,242.08 559.83,242.23 C560.44,242.38 561.28,244.89 561.74,244.89 C562.20,244.89 563.11,242.58 563.64,242.23 C564.17,241.88 565.72,241.62 566.18,241.97 C566.64,242.32 567.19,244.16 567.45,245.15 C567.71,246.14 568.04,249.76 568.34,250.22 C568.64,250.68 569.59,248.96 569.99,248.96 C570.39,248.96 571.18,250.60 571.64,250.22 C572.10,249.84 573.28,247.23 573.80,245.78 C574.32,244.33 575.50,239.26 575.96,238.16 C576.42,237.06 577.18,236.26 577.61,236.64 C578.04,237.02 579.10,240.01 579.51,241.34 C579.92,242.67 580.71,246.55 581.04,247.69 C581.37,248.83 581.84,250.33 582.30,250.86 C582.76,251.39 584.41,251.22 584.84,252.13 C585.27,253.04 585.59,256.96 585.86,258.48 C586.13,260.00 586.80,263.83 587.13,264.82 C587.46,265.81 588.22,266.76 588.65,266.73 C589.08,266.70 590.22,264.87 590.68,264.57 C591.14,264.27 592.09,264.04 592.46,264.19 C592.83,264.34 593.38,266.14 593.73,265.84 C594.08,265.54 594.88,261.92 595.38,261.65 C595.88,261.38 597.31,263.25 597.92,263.55 C598.53,263.85 599.85,263.89 600.46,264.19 C601.07,264.49 602.47,265.74 603.00,266.09 C603.53,266.44 604.44,267.26 604.90,267.11 C605.36,266.96 606.32,264.82 606.81,264.82 C607.30,264.82 608.43,266.93 608.96,267.11 C609.49,267.29 610.75,266.62 611.25,266.35 C611.75,266.08 612.77,265.76 613.15,264.82 C613.53,263.88 614.16,259.93 614.42,258.48 C614.68,257.03 615.01,253.55 615.31,252.76 C615.61,251.97 616.49,252.03 616.96,251.88 C617.43,251.73 618.79,252.22 619.25,251.49 C619.71,250.76 620.44,247.46 620.77,245.78 C621.10,244.10 621.66,239.05 622.04,237.53 C622.42,236.01 623.49,233.88 623.95,233.09 C624.41,232.30 625.47,230.85 625.85,230.93 C626.23,231.01 626.77,232.55 627.12,233.72 C627.47,234.89 628.42,239.71 628.77,240.70 C629.12,241.69 629.71,242.50 630.04,241.97 C630.37,241.44 631.19,237.05 631.56,236.26 C631.93,235.47 632.75,235.45 633.09,235.37 C633.43,235.29 633.93,236.35 634.36,235.62 C634.79,234.89 636.14,230.88 636.64,229.28 C637.14,227.68 638.11,224.19 638.54,222.29 C638.97,220.39 639.85,214.63 640.20,213.41 C640.55,212.19 641.23,211.38 641.46,212.14 C641.69,212.90 642.02,214.96 642.10,219.76 C642.15,224.56 642.10,247.82 642.15,252.13 C642.26,256.44 642.77,256.14 642.99,255.68 C643.21,255.22 643.62,249.23 644.00,248.32 C644.38,247.41 645.67,248.37 646.16,248.07 C646.65,247.77 647.66,246.66 648.07,245.78 C648.48,244.90 649.36,241.08 649.59,240.70 C649.82,240.32 649.80,243.55 650.00,242.61 C650.20,241.67 650.94,233.59 651.27,232.83 C651.60,232.07 652.26,235.80 652.79,236.26 C653.32,236.72 655.10,236.84 655.71,236.64 C656.32,236.44 657.49,236.33 657.87,234.61 C658.25,232.89 658.65,224.15 658.89,222.29 C659.13,220.43 659.63,219.58 659.90,219.12 C660.17,218.66 660.83,218.16 661.17,218.49 C661.51,218.82 662.29,221.79 662.70,221.91 C663.11,222.03 664.11,219.56 664.60,219.50 C665.09,219.44 666.35,221.11 666.76,221.41 C667.17,221.71 667.68,222.09 668.03,222.04 C668.38,221.99 669.28,220.92 669.68,221.03 C670.08,221.14 671.03,223.46 671.33,222.93 C671.63,222.40 672.04,218.53 672.22,216.58 C672.40,214.63 672.70,207.87 672.85,206.68 C673.00,205.49 673.26,205.80 673.49,206.68 C673.72,207.56 674.41,212.47 674.76,214.04 C675.11,215.61 675.95,218.85 676.41,219.76 C676.87,220.67 678.10,221.58 678.56,221.66 C679.02,221.74 679.91,221.08 680.21,220.39 C680.51,219.70 680.80,216.33 681.10,215.95 C681.40,215.57 682.40,217.30 682.75,217.22 C683.10,217.14 683.65,216.22 684.02,215.31 C684.39,214.40 685.39,210.74 685.80,209.60 C686.21,208.46 687.10,206.32 687.45,205.79 C687.80,205.26 688.37,205.01 688.72,205.16 C689.07,205.31 689.91,206.73 690.37,207.06 C690.83,207.39 692.12,207.65 692.53,207.95 C692.94,208.25 693.50,208.41 693.80,209.60 C694.10,210.79 694.81,216.02 695.07,217.85 C695.33,219.68 695.70,223.76 695.96,224.83 C696.22,225.90 696.88,226.44 697.23,226.74 C697.58,227.04 698.53,227.14 698.88,227.37 C699.23,227.60 699.80,228.87 700.15,228.64 C700.50,228.41 701.34,226.61 701.80,225.47 C702.26,224.33 703.55,220.19 703.96,219.12 C704.37,218.05 704.87,216.58 705.22,216.58 C705.57,216.58 706.47,218.36 706.88,219.12 C707.29,219.88 708.24,222.12 708.65,222.93 C709.06,223.74 709.90,225.42 710.30,225.85 C710.70,226.28 711.60,225.92 711.95,226.48 C712.30,227.04 712.88,229.88 713.22,230.55 C713.56,231.22 714.41,232.37 714.75,232.07 C715.09,231.77 715.76,228.76 716.02,228.01 C716.28,227.26 716.60,225.62 716.90,225.85 C717.20,226.08 718.17,229.32 718.55,229.91 C718.93,230.50 719.74,231.03 720.08,230.80 C720.42,230.57 721.11,228.57 721.35,228.01 C721.59,227.45 721.91,225.64 722.11,226.10 C722.31,226.56 722.82,229.46 723.00,231.82 C723.18,234.18 723.52,241.91 723.63,245.78 C723.74,249.65 723.74,260.17 723.89,264.04 C724.04,267.91 724.63,275.50 724.90,278.01 C725.17,280.52 725.83,284.00 726.17,284.99 C726.51,285.98 727.29,286.21 727.70,286.26 C728.11,286.31 729.07,285.37 729.60,285.37 C730.13,285.37 731.68,285.32 732.14,286.26 C732.60,287.20 733.11,291.52 733.41,293.24 C733.71,294.96 734.41,299.57 734.68,300.61 C734.95,301.65 735.43,302.61 735.69,301.88 C735.95,301.15 736.50,295.32 736.84,294.51 C737.18,293.70 738.06,295.23 738.49,295.15 C738.92,295.07 740.04,295.02 740.39,293.88 C740.74,292.74 741.18,287.83 741.41,285.62 C741.64,283.41 742.03,277.33 742.29,275.47 C742.55,273.61 743.18,270.67 743.56,270.14 C743.94,269.61 745.01,271.08 745.47,271.03 C745.93,270.98 746.99,269.30 747.37,269.76 C747.75,270.22 748.34,274.11 748.64,274.83 C748.94,275.55 749.61,276.10 749.91,275.72 C750.21,275.34 750.88,272.63 751.18,271.66 C751.48,270.69 752.15,267.52 752.45,267.60 C752.75,267.68 753.37,270.43 753.72,272.29 C754.07,274.15 755.02,280.27 755.37,283.09 C755.72,285.91 756.38,293.77 756.64,295.78 C756.90,297.79 757.27,299.99 757.53,299.84 C757.79,299.69 758.45,296.22 758.80,294.51 C759.15,292.80 760.04,287.02 760.45,285.62 C760.86,284.22 761.90,282.83 762.23,282.83 C762.56,282.83 763.01,284.80 763.24,285.62 C763.47,286.44 763.86,289.77 764.13,289.69 C764.40,289.61 765.26,285.17 765.53,284.99 C765.80,284.81 766.16,286.87 766.42,288.16 C766.68,289.45 767.39,294.33 767.69,295.78 C767.99,297.23 768.58,299.95 768.96,300.22 C769.34,300.49 770.40,298.45 770.86,298.07 C771.32,297.69 772.46,298.85 772.76,297.05 C773.06,295.25 773.20,285.60 773.40,283.09 C773.60,280.58 774.11,277.14 774.41,276.10 C774.71,275.06 775.60,274.07 775.94,274.45 C776.28,274.83 776.94,277.48 777.21,279.28 C777.48,281.08 777.95,287.45 778.22,289.43 C778.49,291.41 779.15,295.02 779.49,295.78 C779.83,296.54 780.72,296.42 781.02,295.78 C781.32,295.14 781.80,291.18 782.03,290.45 C782.26,289.72 782.74,288.29 782.92,289.69 C783.10,291.09 783.40,299.11 783.55,302.13 C783.70,305.15 783.96,313.30 784.19,314.82 C784.42,316.34 785.16,315.20 785.46,314.82 C785.76,314.44 786.43,312.87 786.73,311.65 C787.03,310.43 787.70,305.84 788.00,304.67 C788.30,303.50 788.97,302.00 789.27,301.88 C789.57,301.76 790.08,303.50 790.54,303.65 C791.00,303.80 792.39,303.20 793.08,303.14 C793.77,303.08 795.56,303.03 796.25,303.14 C796.94,303.25 798.26,303.95 798.79,304.03 C799.32,304.11 800.23,303.40 800.69,303.78 C801.15,304.16 802.22,307.41 802.60,307.21 C802.98,307.01 803.57,303.96 803.87,302.13 C804.17,300.30 804.84,293.49 805.14,291.97 C805.44,290.45 806.03,289.58 806.41,289.43 C806.79,289.28 807.93,290.43 808.31,290.70 C808.69,290.97 809.32,292.79 809.58,291.72 C809.84,290.65 810.27,283.65 810.47,281.82 C810.67,279.99 810.99,276.86 811.23,276.48 C811.47,276.10 812.17,278.30 812.50,278.64 C812.83,278.98 813.61,279.43 814.02,279.28 C814.43,279.13 815.55,277.45 815.93,277.37 C816.31,277.29 816.94,277.80 817.20,278.64 C817.46,279.48 817.89,282.30 818.09,284.36 C818.29,286.42 818.61,293.98 818.85,295.78 C819.09,297.58 819.79,299.04 820.12,299.34 C820.45,299.64 821.34,299.51 821.64,298.32 C821.94,297.13 822.43,291.87 822.66,289.43 C822.89,286.99 823.31,280.11 823.54,278.01 C823.77,275.91 824.33,272.37 824.56,271.91 C824.79,271.45 825.22,272.25 825.45,274.20 C825.68,276.15 826.19,285.57 826.46,288.16 C826.73,290.75 827.39,294.79 827.73,295.78 C828.07,296.77 828.92,296.39 829.26,296.42 C829.60,296.45 830.23,295.96 830.53,296.04 C830.83,296.12 831.50,297.26 831.80,297.05 C832.10,296.84 832.77,293.65 833.07,294.26 C833.37,294.87 834.11,301.02 834.34,302.13 C834.57,303.24 834.80,304.08 835.00,303.48 C835.20,302.88 835.79,298.88 836.02,297.13 C836.25,295.38 836.64,290.28 836.90,288.88 C837.16,287.48 837.82,285.68 838.17,285.45 C838.52,285.22 839.44,286.64 839.82,286.97 C840.20,287.30 841.01,288.77 841.35,288.24 C841.69,287.71 842.39,283.37 842.62,282.53 C842.85,281.69 843.02,281.06 843.25,281.26 C843.48,281.46 844.17,284.41 844.52,284.18 C844.87,283.95 845.79,280.12 846.17,279.36 C846.55,278.60 847.21,278.06 847.70,277.83 C848.19,277.60 849.77,276.89 850.23,277.45 C850.69,278.01 851.20,282.30 851.50,282.53 C851.80,282.76 852.47,279.89 852.77,279.36 C853.07,278.83 853.66,278.39 854.04,278.09 C854.42,277.79 855.46,277.25 855.95,276.82 C856.44,276.39 857.61,274.61 858.11,274.53 C858.61,274.45 859.71,276.06 860.14,276.18 C860.57,276.30 861.25,275.78 861.66,275.55 C862.07,275.32 863.10,274.13 863.56,274.28 C864.02,274.43 865.09,277.28 865.47,276.82 C865.85,276.36 866.47,272.07 866.74,270.47 C867.01,268.87 867.48,264.48 867.75,263.49 C868.02,262.50 868.68,262.45 869.02,262.22 C869.36,261.99 870.21,262.34 870.55,261.58 C870.89,260.82 871.52,256.94 871.82,255.87 C872.12,254.80 872.79,253.57 873.09,252.70 C873.39,251.83 874.09,249.27 874.36,248.63 C874.63,247.99 875.07,247.21 875.37,247.36 C875.67,247.51 876.48,249.56 876.89,249.90 C877.30,250.24 878.42,249.75 878.80,250.16 C879.18,250.57 879.69,252.49 880.07,253.33 C880.45,254.17 881.54,256.38 881.97,257.14 C882.40,257.90 883.24,259.76 883.62,259.68 C884.00,259.60 884.85,257.57 885.15,256.50 C885.45,255.43 885.90,251.67 886.16,250.79 C886.42,249.91 886.96,249.06 887.30,249.14 C887.64,249.22 888.64,250.24 888.96,251.43 C889.28,252.62 889.71,257.36 889.97,259.04 C890.23,260.72 890.82,264.40 891.11,265.39 C891.40,266.38 892.11,267.52 892.38,267.29 C892.65,267.06 893.19,264.02 893.40,263.49 C893.61,262.96 893.98,262.16 894.16,262.85 C894.34,263.54 894.78,265.85 894.92,269.20 C895.06,272.55 895.18,285.63 895.30,290.78 C895.42,295.93 895.74,308.87 895.92,312.11 C896.10,315.35 896.56,316.95 896.78,317.80 C897.00,318.65 897.51,319.25 897.77,319.22 C898.03,319.19 898.65,317.34 898.91,317.51 C899.17,317.68 899.70,319.96 899.91,320.64 C900.12,321.32 900.31,322.77 900.62,323.20 C900.93,323.63 902.03,323.73 902.46,324.19 C902.89,324.65 903.83,325.93 904.17,327.04 C904.51,328.15 905.05,331.56 905.31,333.44 C905.57,335.32 906.06,341.06 906.30,342.68 C906.54,344.30 907.08,346.77 907.30,346.94 C907.52,347.11 907.93,345.46 908.15,344.10 C908.37,342.74 908.91,337.19 909.15,335.57 C909.39,333.95 909.85,331.36 910.14,330.59 C910.43,329.82 911.25,329.34 911.56,329.17 C911.87,329.00 912.43,329.48 912.70,329.17 C912.97,328.86 913.58,326.70 913.84,326.61 C914.10,326.52 914.59,327.78 914.83,328.46 C915.07,329.14 915.54,332.13 915.83,332.30 C916.12,332.47 916.91,330.26 917.25,329.88 C917.59,329.50 918.28,329.56 918.67,329.17 C919.06,328.78 920.04,326.99 920.52,326.61 C921.00,326.23 922.05,326.11 922.65,326.04 C923.25,325.97 924.90,325.87 925.50,326.04 C926.10,326.21 927.20,327.43 927.63,327.46 C928.06,327.49 928.66,326.84 929.05,326.33 C929.44,325.82 930.47,323.37 930.90,323.20 C931.33,323.03 932.15,324.36 932.61,324.91 C933.07,325.46 934.23,327.07 934.74,327.75 C935.25,328.43 936.48,329.82 936.87,330.59 C937.26,331.36 937.79,332.95 938.01,334.15 C938.23,335.35 938.51,339.44 938.72,340.55 C938.93,341.66 939.43,343.19 939.72,343.39 C940.01,343.59 940.83,341.74 941.14,342.25 C941.45,342.76 942.07,346.66 942.27,347.65 C942.47,348.64 942.63,350.59 942.84,350.50 C943.05,350.41 943.67,347.28 943.98,346.94 C944.29,346.60 945.02,347.22 945.40,347.65 C945.78,348.08 946.77,349.65 947.11,350.50 C947.45,351.35 948.03,353.57 948.25,354.76 C948.47,355.95 948.79,359.43 948.96,360.45 C949.13,361.47 949.41,362.91 949.67,363.29 C949.93,363.67 950.83,363.24 951.09,363.58 C951.35,363.92 951.66,364.98 951.80,366.14 C951.94,367.30 952.11,371.54 952.23,373.25 C952.35,374.96 952.65,379.30 952.80,380.36 C952.95,381.42 953.29,382.15 953.51,382.06 C953.73,381.97 954.50,379.93 954.64,379.64" fill="none" stroke="#f5bf3d" stroke-width="1.75" stroke-linejoin="round" stroke-linecap="round"/>
<text class="ax" x="103.2" y="97.0" text-anchor="end">60.00</text>
<text class="ax" x="103.2" y="172.6" text-anchor="end">55.00</text>
<text class="ax" x="103.2" y="248.1" text-anchor="end">50.00</text>
<text class="ax" x="103.2" y="323.7" text-anchor="end">45.00</text>
<text class="ax" x="115.00" y="412.3" text-anchor="middle">Aug 05 08AM</text>
<text class="ax" x="254.93" y="412.3" text-anchor="middle">Aug 20 03PM</text>
<text class="ax" x="394.86" y="412.3" text-anchor="middle">Sep 04 10PM</text>
<text class="ax" x="534.79" y="412.3" text-anchor="middle">Sep 20 04AM</text>
<text class="ax" x="674.72" y="412.3" text-anchor="middle">Oct 05 11AM</text>
<text class="ax" x="814.65" y="412.3" text-anchor="middle">Oct 20 06PM</text>
<text class="ax" x="954.58" y="412.3" text-anchor="middle">Nov 05 12AM</text>
<text class="ax" style="fill:#bfc1c9;font-size:11.2px;letter-spacing:-0.5px" transform="translate(35.15,234.7) rotate(-90)" text-anchor="middle">USD</text>
<line x1="156.7" y1="480.2" x2="156.7" y2="552.0" stroke="#2d2e33" stroke-width="1.1" stroke-dasharray="4 4.8" stroke-opacity="0.8"/>
<line x1="220.95" y1="480.2" x2="220.95" y2="552.0" stroke="#2d2e33" stroke-width="1.1" stroke-dasharray="4 4.8" stroke-opacity="0.8"/>
<line x1="285.2" y1="480.2" x2="285.2" y2="552.0" stroke="#2d2e33" stroke-width="1.1" stroke-dasharray="4 4.8" stroke-opacity="0.8"/>
<line x1="349.45" y1="480.2" x2="349.45" y2="552.0" stroke="#2d2e33" stroke-width="1.1" stroke-dasharray="4 4.8" stroke-opacity="0.8"/>
<line x1="413.7" y1="480.2" x2="413.7" y2="552.0" stroke="#2d2e33" stroke-width="1.1" stroke-dasharray="4 4.8" stroke-opacity="0.8"/>
<line x1="477.95" y1="480.2" x2="477.95" y2="552.0" stroke="#2d2e33" stroke-width="1.1" stroke-dasharray="4 4.8" stroke-opacity="0.8"/>
<line x1="542.2" y1="480.2" x2="542.2" y2="552.0" stroke="#2d2e33" stroke-width="1.1" stroke-dasharray="4 4.8" stroke-opacity="0.8"/>
<line x1="606.45" y1="480.2" x2="606.45" y2="552.0" stroke="#2d2e33" stroke-width="1.1" stroke-dasharray="4 4.8" stroke-opacity="0.8"/>
<line x1="670.7" y1="480.2" x2="670.7" y2="552.0" stroke="#2d2e33" stroke-width="1.1" stroke-dasharray="4 4.8" stroke-opacity="0.8"/>
<line x1="734.95" y1="480.2" x2="734.95" y2="552.0" stroke="#2d2e33" stroke-width="1.1" stroke-dasharray="4 4.8" stroke-opacity="0.8"/>
<line x1="799.2" y1="480.2" x2="799.2" y2="552.0" stroke="#2d2e33" stroke-width="1.1" stroke-dasharray="4 4.8" stroke-opacity="0.8"/>
<line x1="863.45" y1="480.2" x2="863.45" y2="552.0" stroke="#2d2e33" stroke-width="1.1" stroke-dasharray="4 4.8" stroke-opacity="0.8"/>
<line x1="927.7" y1="480.2" x2="927.7" y2="552.0" stroke="#2d2e33" stroke-width="1.1" stroke-dasharray="4 4.8" stroke-opacity="0.8"/>
<path d="M113.0,496.96 L114.0,496.87 L115.0,496.72 L116.0,496.70 L117.0,497.18 L118.0,498.00 L119.0,498.49 L120.0,498.37 L121.0,498.12 L122.0,498.10 L123.0,498.30 L124.0,498.29 L125.0,498.04 L126.0,497.78 L127.0,497.06 L128.0,495.56 L129.0,495.01 L130.0,495.17 L131.0,495.52 L132.0,495.71 L133.0,495.27 L134.0,493.98 L135.0,492.67 L136.0,492.37 L137.0,492.30 L138.0,492.02 L139.0,491.92 L140.0,492.20 L141.0,492.55 L142.0,492.87 L143.0,493.09 L144.0,493.10 L145.0,492.98 L146.0,492.86 L147.0,493.01 L148.0,493.86 L149.0,494.78 L150.0,495.21 L151.0,495.17 L152.0,494.75 L153.0,494.32 L154.0,494.23 L155.0,494.36 L156.0,494.55 L157.0,494.75 L158.0,494.87 L159.0,494.62 L160.0,493.95 L161.0,493.47 L162.0,493.20 L163.0,492.96 L164.0,492.77 L165.0,492.82 L166.0,492.73 L167.0,491.77 L168.0,489.65 L169.0,488.25 L170.0,487.99 L171.0,488.68 L172.0,490.16 L173.0,490.77 L174.0,491.01 L175.0,491.64 L176.0,492.07 L177.0,491.96 L178.0,492.05 L179.0,492.37 L180.0,492.60 L181.0,492.27 L182.0,491.39 L183.0,490.86 L184.0,490.66 L185.0,490.51 L186.0,490.46 L187.0,490.70 L188.0,490.80 L189.0,490.54 L190.0,490.13 L191.0,489.43 L192.0,488.19 L193.0,486.85 L194.0,485.69 L195.0,484.84 L196.0,484.83 L197.0,485.87 L198.0,487.29 L199.0,488.97 L200.0,491.45 L201.0,493.47 L202.0,493.98 L203.0,493.79 L204.0,493.40 L205.0,492.87 L206.0,492.41 L207.0,492.26 L208.0,492.46 L209.0,493.22 L210.0,493.96 L211.0,494.46 L212.0,494.69 L213.0,494.57 L214.0,494.39 L215.0,494.32 L216.0,494.34 L217.0,494.37 L218.0,494.39 L219.0,494.45 L220.0,494.60 L221.0,494.82 L222.0,495.01 L223.0,495.00 L224.0,494.64 L225.0,494.23 L226.0,493.99 L227.0,493.90 L228.0,494.13 L229.0,494.64 L230.0,494.98 L231.0,495.30 L232.0,496.40 L233.0,498.00 L234.0,498.59 L235.0,498.77 L236.0,498.73 L237.0,497.97 L238.0,496.99 L239.0,496.65 L240.0,496.79 L241.0,497.28 L242.0,497.95 L243.0,498.50 L244.0,498.48 L245.0,498.62 L246.0,499.86 L247.0,501.13 L248.0,501.83 L249.0,501.97 L250.0,501.82 L251.0,501.53 L252.0,501.17 L253.0,500.98 L254.0,501.20 L255.0,501.27 L256.0,500.77 L257.0,500.27 L258.0,500.02 L259.0,500.10 L260.0,500.37 L261.0,500.73 L262.0,501.16 L263.0,501.63 L264.0,502.19 L265.0,502.75 L266.0,503.16 L267.0,503.31 L268.0,503.12 L269.0,502.80 L270.0,502.53 L271.0,502.47 L272.0,501.97 L273.0,499.83 L274.0,497.35 L275.0,496.30 L276.0,496.26 L277.0,496.76 L278.0,497.54 L279.0,498.06 L280.0,498.21 L281.0,498.46 L282.0,498.96 L283.0,499.42 L284.0,499.54 L285.0,499.46 L286.0,499.33 L287.0,499.32 L288.0,499.58 L289.0,499.88 L290.0,500.15 L291.0,500.54 L292.0,501.04 L293.0,501.60 L294.0,502.04 L295.0,502.29 L296.0,502.46 L297.0,502.82 L298.0,503.91 L299.0,505.16 L300.0,505.49 L301.0,505.09 L302.0,504.98 L303.0,507.04 L304.0,508.00 L305.0,508.07 L306.0,507.91 L307.0,507.69 L308.0,507.46 L309.0,507.37 L310.0,507.50 L311.0,507.40 L312.0,506.49 L313.0,505.49 L314.0,505.07 L315.0,505.04 L316.0,505.41 L317.0,506.04 L318.0,505.95 L319.0,505.26 L320.0,504.57 L321.0,504.50 L322.0,504.91 L323.0,505.06 L324.0,504.62 L325.0,503.42 L326.0,502.61 L327.0,502.58 L328.0,502.86 L329.0,503.24 L330.0,503.79 L331.0,504.19 L332.0,504.15 L333.0,504.40 L334.0,505.47 L335.0,506.79 L336.0,508.07 L337.0,509.17 L338.0,510.02 L339.0,510.43 L340.0,510.52 L341.0,510.48 L342.0,510.55 L343.0,510.64 L344.0,510.55 L345.0,510.41 L346.0,510.24 L347.0,510.07 L348.0,509.96 L349.0,509.90 L350.0,509.59 L351.0,509.14 L352.0,509.33 L353.0,509.68 L354.0,509.86 L355.0,510.00 L356.0,509.99 L357.0,509.59 L358.0,509.30 L359.0,509.76 L360.0,510.74 L361.0,511.12 L362.0,510.17 L363.0,509.18 L364.0,509.18 L365.0,508.98 L366.0,508.58 L367.0,508.43 L368.0,507.93 L369.0,506.74 L370.0,505.58 L371.0,504.97 L372.0,505.20 L373.0,505.47 L374.0,505.54 L375.0,505.74 L376.0,505.92 L377.0,505.53 L378.0,505.03 L379.0,505.16 L380.0,505.40 L381.0,505.32 L382.0,504.99 L383.0,504.29 L384.0,503.42 L385.0,502.98 L386.0,502.90 L387.0,503.16 L388.0,503.72 L389.0,504.56 L390.0,505.08 L391.0,505.18 L392.0,505.74 L393.0,506.71 L394.0,506.89 L395.0,506.57 L396.0,506.21 L397.0,506.43 L398.0,507.69 L399.0,509.63 L400.0,510.93 L401.0,511.00 L402.0,511.70 L403.0,512.94 L404.0,513.50 L405.0,513.56 L406.0,513.49 L407.0,513.47 L408.0,513.60 L409.0,513.77 L410.0,514.02 L411.0,514.55 L412.0,515.12 L413.0,515.50 L414.0,515.46 L415.0,515.23 L416.0,514.98 L417.0,514.74 L418.0,514.51 L419.0,514.37 L420.0,514.45 L421.0,514.57 L422.0,514.51 L423.0,514.25 L424.0,514.10 L425.0,514.08 L426.0,513.95 L427.0,513.52 L428.0,513.02 L429.0,512.60 L430.0,512.32 L431.0,512.35 L432.0,512.66 L433.0,512.99 L434.0,512.62 L435.0,511.80 L436.0,511.53 L437.0,512.01 L438.0,513.06 L439.0,513.65 L440.0,513.71 L441.0,513.58 L442.0,513.47 L443.0,513.41 L444.0,513.04 L445.0,511.83 L446.0,510.76 L447.0,510.25 L448.0,509.99 L449.0,509.82 L450.0,509.72 L451.0,509.74 L452.0,509.71 L453.0,509.48 L454.0,509.35 L455.0,509.48 L456.0,509.48 L457.0,509.28 L458.0,509.05 L459.0,508.49 L460.0,507.20 L461.0,506.82 L462.0,507.20 L463.0,507.54 L464.0,507.72 L465.0,507.66 L466.0,507.10 L467.0,506.06 L468.0,505.63 L469.0,505.63 L470.0,505.67 L471.0,505.71 L472.0,505.71 L473.0,505.66 L474.0,505.64 L475.0,505.91 L476.0,506.12 L477.0,506.06 L478.0,506.16 L479.0,506.39 L480.0,506.54 L481.0,506.61 L482.0,506.66 L483.0,506.94 L484.0,507.47 L485.0,507.71 L486.0,507.72 L487.0,507.69 L488.0,507.65 L489.0,507.64 L490.0,507.68 L491.0,507.82 L492.0,508.15 L493.0,508.38 L494.0,508.25 L495.0,507.70 L496.0,507.36 L497.0,507.24 L498.0,506.96 L499.0,506.60 L500.0,506.70 L501.0,507.09 L502.0,507.52 L503.0,507.37 L504.0,506.22 L505.0,505.48 L506.0,505.45 L507.0,505.62 L508.0,505.52 L509.0,505.27 L510.0,505.53 L511.0,506.07 L512.0,506.41 L513.0,506.54 L514.0,506.38 L515.0,505.89 L516.0,505.08 L517.0,504.48 L518.0,504.19 L519.0,504.11 L520.0,505.61 L521.0,510.24 L522.0,512.12 L523.0,512.39 L524.0,512.60 L525.0,512.81 L526.0,513.03 L527.0,513.26 L528.0,513.51 L529.0,513.95 L530.0,514.63 L531.0,515.18 L532.0,515.34 L533.0,515.39 L534.0,515.43 L535.0,515.39 L536.0,515.29 L537.0,515.25 L538.0,515.24 L539.0,515.12 L540.0,515.00 L541.0,515.07 L542.0,515.17 L543.0,515.17 L544.0,515.12 L545.0,515.08 L546.0,515.06 L547.0,515.04 L548.0,515.03 L549.0,515.04 L550.0,515.16 L551.0,515.44 L552.0,516.05 L553.0,516.90 L554.0,518.05 L555.0,519.14 L556.0,519.57 L557.0,519.62 L558.0,519.55 L559.0,519.46 L560.0,519.49 L561.0,519.70 L562.0,519.79 L563.0,519.59 L564.0,519.40 L565.0,519.34 L566.0,519.41 L567.0,519.87 L568.0,520.59 L569.0,520.94 L570.0,520.94 L571.0,520.99 L572.0,520.90 L573.0,520.51 L574.0,519.95 L575.0,519.22 L576.0,518.57 L577.0,518.31 L578.0,518.43 L579.0,518.93 L580.0,519.66 L581.0,520.48 L582.0,521.06 L583.0,521.34 L584.0,521.52 L585.0,522.00 L586.0,523.10 L587.0,524.11 L588.0,524.59 L589.0,524.68 L590.0,524.52 L591.0,524.36 L592.0,524.32 L593.0,524.40 L594.0,524.35 L595.0,524.00 L596.0,523.85 L597.0,523.96 L598.0,524.10 L599.0,524.18 L600.0,524.25 L601.0,524.36 L602.0,524.52 L603.0,524.68 L604.0,524.80 L605.0,524.82 L606.0,524.64 L607.0,524.53 L608.0,524.68 L609.0,524.85 L610.0,524.84 L611.0,524.75 L612.0,524.60 L613.0,524.27 L614.0,523.39 L615.0,522.31 L616.0,521.71 L617.0,521.53 L618.0,521.48 L619.0,521.32 L620.0,520.74 L621.0,519.73 L622.0,518.56 L623.0,517.83 L624.0,517.37 L625.0,517.09 L626.0,517.05 L627.0,517.49 L628.0,518.28 L629.0,518.97 L630.0,519.10 L631.0,518.56 L632.0,518.06 L633.0,517.88 L634.0,517.80 L635.0,517.45 L636.0,516.87 L637.0,516.16 L638.0,515.33 L639.0,514.34 L640.0,513.34 L641.0,513.12 L642.0,515.48 L643.0,520.37 L644.0,521.05 L645.0,520.70 L646.0,520.63 L647.0,520.44 L648.0,520.09 L649.0,519.61 L650.0,519.11 L651.0,518.06 L652.0,517.74 L653.0,517.97 L654.0,518.07 L655.0,518.09 L656.0,518.03 L657.0,517.79 L658.0,516.93 L659.0,515.22 L660.0,514.31 L661.0,514.20 L662.0,514.47 L663.0,514.65 L664.0,514.51 L665.0,514.44 L666.0,514.58 L667.0,514.74 L668.0,514.82 L669.0,514.76 L670.0,514.78 L671.0,514.74 L672.0,513.69 L673.0,512.09 L674.0,512.21 L675.0,513.19 L676.0,513.98 L677.0,514.43 L678.0,514.64 L679.0,514.67 L680.0,514.39 L681.0,513.82 L682.0,513.67 L683.0,513.64 L684.0,513.30 L685.0,512.68 L686.0,512.03 L687.0,511.53 L688.0,511.25 L689.0,511.23 L690.0,511.42 L691.0,511.58 L692.0,511.70 L693.0,511.93 L694.0,512.57 L695.0,513.88 L696.0,515.24 L697.0,515.80 L698.0,515.97 L699.0,516.11 L700.0,516.20 L701.0,515.95 L702.0,515.47 L703.0,514.85 L704.0,514.24 L705.0,513.88 L706.0,513.96 L707.0,514.30 L708.0,514.75 L709.0,515.20 L710.0,515.56 L711.0,515.77 L712.0,516.01 L713.0,516.53 L714.0,516.87 L715.0,516.79 L716.0,516.27 L717.0,515.97 L718.0,516.28 L719.0,516.64 L720.0,516.70 L721.0,516.35 L722.0,516.19 L723.0,518.31 L724.0,523.64 L725.0,527.13 L726.0,528.52 L727.0,529.00 L728.0,529.11 L729.0,529.06 L730.0,529.03 L731.0,529.09 L732.0,529.36 L733.0,530.27 L734.0,531.44 L735.0,532.22 L736.0,532.03 L737.0,531.29 L738.0,531.09 L739.0,531.06 L740.0,530.73 L741.0,529.56 L742.0,527.69 L743.0,526.30 L744.0,525.75 L745.0,525.71 L746.0,525.68 L747.0,525.69 L748.0,526.09 L749.0,526.58 L750.0,526.61 L751.0,526.05 L752.0,525.51 L753.0,525.65 L754.0,526.57 L755.0,528.03 L756.0,529.84 L757.0,531.33 L758.0,531.55 L759.0,530.73 L760.0,529.67 L761.0,528.92 L762.0,528.64 L763.0,528.99 L764.0,529.52 L765.0,529.39 L766.0,529.50 L767.0,530.39 L768.0,531.46 L769.0,532.08 L770.0,532.03 L771.0,531.82 L772.0,531.45 L773.0,530.09 L774.0,527.97 L775.0,526.89 L776.0,526.80 L777.0,527.67 L778.0,529.28 L779.0,530.59 L780.0,531.19 L781.0,531.07 L782.0,530.41 L783.0,531.15 L784.0,533.99 L785.0,535.31 L786.0,535.15 L787.0,534.41 L788.0,533.43 L789.0,532.91 L790.0,532.90 L791.0,532.99 L792.0,532.99 L793.0,532.95 L794.0,532.94 L795.0,532.94 L796.0,532.95 L797.0,533.00 L798.0,533.07 L799.0,533.11 L800.0,533.13 L801.0,533.27 L802.0,533.50 L803.0,533.31 L804.0,532.33 L805.0,530.93 L806.0,530.18 L807.0,530.02 L808.0,530.13 L809.0,530.07 L810.0,529.14 L811.0,527.75 L812.0,527.35 L813.0,527.50 L814.0,527.56 L815.0,527.41 L816.0,527.30 L817.0,527.63 L818.0,528.94 L819.0,530.96 L820.0,531.88 L821.0,531.81 L822.0,530.87 L823.0,528.92 L824.0,527.06 L825.0,526.72 L826.0,528.22 L827.0,530.10 L828.0,531.14 L829.0,531.39 L830.0,531.41 L831.0,531.44 L832.0,531.38 L833.0,531.34 L834.0,532.15 L835.0,532.58 L836.0,531.52 L837.0,529.97 L838.0,529.23 L839.0,529.20 L840.0,529.37 L841.0,529.40 L842.0,528.93 L843.0,528.39 L844.0,528.39 L845.0,528.28 L846.0,527.82 L847.0,527.48 L848.0,527.32 L849.0,527.26 L850.0,527.37 L851.0,527.80 L852.0,527.94 L853.0,527.64 L854.0,527.38 L855.0,527.22 L856.0,527.05 L857.0,526.83 L858.0,526.67 L859.0,526.74 L860.0,526.86 L861.0,526.84 L862.0,526.73 L863.0,526.63 L864.0,526.69 L865.0,526.79 L866.0,526.33 L867.0,525.26 L868.0,524.25 L869.0,523.85 L870.0,523.65 L871.0,523.15 L872.0,522.38 L873.0,521.72 L874.0,521.10 L875.0,520.73 L876.0,520.79 L877.0,521.02 L878.0,521.13 L879.0,521.33 L880.0,521.78 L881.0,522.26 L882.0,522.68 L883.0,522.98 L884.0,522.98 L885.0,522.48 L886.0,521.61 L887.0,521.12 L888.0,521.17 L889.0,521.75 L890.0,523.07 L891.0,524.23 L892.0,524.66 L893.0,524.43 L894.0,524.56 L895.0,527.64 L896.0,533.57 L897.0,536.07 L898.0,536.36 L899.0,536.39 L900.0,536.88 L901.0,537.37 L902.0,537.60 L903.0,537.85 L904.0,538.35 L905.0,539.45 L906.0,541.02 L907.0,542.11 L908.0,541.88 L909.0,540.55 L910.0,539.39 L911.0,538.91 L912.0,538.73 L913.0,538.55 L914.0,538.40 L915.0,538.76 L916.0,539.17 L917.0,539.03 L918.0,538.81 L919.0,538.61 L920.0,538.35 L921.0,538.17 L922.0,538.08 L923.0,538.05 L924.0,538.04 L925.0,538.06 L926.0,538.13 L927.0,538.24 L928.0,538.25 L929.0,538.08 L930.0,537.76 L931.0,537.54 L932.0,537.66 L933.0,537.91 L934.0,538.20 L935.0,538.50 L936.0,538.81 L937.0,539.22 L938.0,540.02 L939.0,541.21 L940.0,541.74 L941.0,541.89 L942.0,542.55 L943.0,543.08 L944.0,542.86 L945.0,542.84 L946.0,543.10 L947.0,543.53 L948.0,544.38 L949.0,545.56 L950.0,546.24 L951.0,546.65 L952.0,547.96 L953.0,549.75 L954.0,550.22 L955.0,550.04 L955.0,552.0 L113.0,552.0 Z" fill="url(#ng)"/>
<path clip-path="url(#nclip)" d="M33.71,552.0 L105.51,480.2 M40.74,552.0 L112.54,480.2 M47.76,552.0 L119.56,480.2 M54.78,552.0 L126.58,480.2 M61.81,552.0 L133.61,480.2 M68.83,552.0 L140.63,480.2 M75.86,552.0 L147.66,480.2 M82.88,552.0 L154.68,480.2 M89.90,552.0 L161.70,480.2 M96.93,552.0 L168.73,480.2 M103.95,552.0 L175.75,480.2 M110.98,552.0 L182.78,480.2 M118.00,552.0 L189.80,480.2 M125.02,552.0 L196.82,480.2 M132.05,552.0 L203.85,480.2 M139.07,552.0 L210.87,480.2 M146.10,552.0 L217.90,480.2 M153.12,552.0 L224.92,480.2 M160.14,552.0 L231.94,480.2 M167.17,552.0 L238.97,480.2 M174.19,552.0 L245.99,480.2 M181.22,552.0 L253.02,480.2 M188.24,552.0 L260.04,480.2 M195.26,552.0 L267.06,480.2 M202.29,552.0 L274.09,480.2 M209.31,552.0 L281.11,480.2 M216.34,552.0 L288.14,480.2 M223.36,552.0 L295.16,480.2 M230.38,552.0 L302.18,480.2 M237.41,552.0 L309.21,480.2 M244.43,552.0 L316.23,480.2 M251.46,552.0 L323.26,480.2 M258.48,552.0 L330.28,480.2 M265.50,552.0 L337.30,480.2 M272.53,552.0 L344.33,480.2 M279.55,552.0 L351.35,480.2 M286.58,552.0 L358.38,480.2 M293.60,552.0 L365.40,480.2 M300.62,552.0 L372.42,480.2 M307.65,552.0 L379.45,480.2 M314.67,552.0 L386.47,480.2 M321.70,552.0 L393.50,480.2 M328.72,552.0 L400.52,480.2 M335.74,552.0 L407.54,480.2 M342.77,552.0 L414.57,480.2 M349.79,552.0 L421.59,480.2 M356.82,552.0 L428.62,480.2 M363.84,552.0 L435.64,480.2 M370.86,552.0 L442.66,480.2 M377.89,552.0 L449.69,480.2 M384.91,552.0 L456.71,480.2 M391.94,552.0 L463.74,480.2 M398.96,552.0 L470.76,480.2 M405.98,552.0 L477.78,480.2 M413.01,552.0 L484.81,480.2 M420.03,552.0 L491.83,480.2 M427.06,552.0 L498.86,480.2 M434.08,552.0 L505.88,480.2 M441.10,552.0 L512.90,480.2 M448.13,552.0 L519.93,480.2 M455.15,552.0 L526.95,480.2 M462.18,552.0 L533.98,480.2 M469.20,552.0 L541.00,480.2 M476.22,552.0 L548.02,480.2 M483.25,552.0 L555.05,480.2 M490.27,552.0 L562.07,480.2 M497.30,552.0 L569.10,480.2 M504.32,552.0 L576.12,480.2 M511.34,552.0 L583.14,480.2 M518.37,552.0 L590.17,480.2 M525.39,552.0 L597.19,480.2 M532.42,552.0 L604.22,480.2 M539.44,552.0 L611.24,480.2 M546.46,552.0 L618.26,480.2 M553.49,552.0 L625.29,480.2 M560.51,552.0 L632.31,480.2 M567.54,552.0 L639.34,480.2 M574.56,552.0 L646.36,480.2 M581.58,552.0 L653.38,480.2 M588.61,552.0 L660.41,480.2 M595.63,552.0 L667.43,480.2 M602.66,552.0 L674.46,480.2 M609.68,552.0 L681.48,480.2 M616.70,552.0 L688.50,480.2 M623.73,552.0 L695.53,480.2 M630.75,552.0 L702.55,480.2 M637.78,552.0 L709.58,480.2 M644.80,552.0 L716.60,480.2 M651.82,552.0 L723.62,480.2 M658.85,552.0 L730.65,480.2 M665.87,552.0 L737.67,480.2 M672.90,552.0 L744.70,480.2 M679.92,552.0 L751.72,480.2 M686.94,552.0 L758.74,480.2 M693.97,552.0 L765.77,480.2 M700.99,552.0 L772.79,480.2 M708.02,552.0 L779.82,480.2 M715.04,552.0 L786.84,480.2 M722.06,552.0 L793.86,480.2 M729.09,552.0 L800.89,480.2 M736.11,552.0 L807.91,480.2 M743.14,552.0 L814.94,480.2 M750.16,552.0 L821.96,480.2 M757.18,552.0 L828.98,480.2 M764.21,552.0 L836.01,480.2 M771.23,552.0 L843.03,480.2 M778.26,552.0 L850.06,480.2 M785.28,552.0 L857.08,480.2 M792.30,552.0 L864.10,480.2 M799.33,552.0 L871.13,480.2 M806.35,552.0 L878.15,480.2 M813.38,552.0 L885.18,480.2 M820.40,552.0 L892.20,480.2 M827.42,552.0 L899.22,480.2 M834.45,552.0 L906.25,480.2 M841.47,552.0 L913.27,480.2 M848.50,552.0 L920.30,480.2 M855.52,552.0 L927.32,480.2 M862.54,552.0 L934.34,480.2 M869.57,552.0 L941.37,480.2 M876.59,552.0 L948.39,480.2 M883.62,552.0 L955.42,480.2 M890.64,552.0 L962.44,480.2 M897.66,552.0 L969.46,480.2 M904.69,552.0 L976.49,480.2 M911.71,552.0 L983.51,480.2 M918.74,552.0 L990.54,480.2 M925.76,552.0 L997.56,480.2 M932.78,552.0 L1004.58,480.2 M939.81,552.0 L1011.61,480.2 M946.83,552.0 L1018.63,480.2 M953.86,552.0 L1025.66,480.2" stroke="#f5bf3d" stroke-opacity="0.5" stroke-width="0.65" fill="none"/>
<path d="M113.0,496.96 L114.0,496.87 L115.0,496.72 L116.0,496.70 L117.0,497.18 L118.0,498.00 L119.0,498.49 L120.0,498.37 L121.0,498.12 L122.0,498.10 L123.0,498.30 L124.0,498.29 L125.0,498.04 L126.0,497.78 L127.0,497.06 L128.0,495.56 L129.0,495.01 L130.0,495.17 L131.0,495.52 L132.0,495.71 L133.0,495.27 L134.0,493.98 L135.0,492.67 L136.0,492.37 L137.0,492.30 L138.0,492.02 L139.0,491.92 L140.0,492.20 L141.0,492.55 L142.0,492.87 L143.0,493.09 L144.0,493.10 L145.0,492.98 L146.0,492.86 L147.0,493.01 L148.0,493.86 L149.0,494.78 L150.0,495.21 L151.0,495.17 L152.0,494.75 L153.0,494.32 L154.0,494.23 L155.0,494.36 L156.0,494.55 L157.0,494.75 L158.0,494.87 L159.0,494.62 L160.0,493.95 L161.0,493.47 L162.0,493.20 L163.0,492.96 L164.0,492.77 L165.0,492.82 L166.0,492.73 L167.0,491.77 L168.0,489.65 L169.0,488.25 L170.0,487.99 L171.0,488.68 L172.0,490.16 L173.0,490.77 L174.0,491.01 L175.0,491.64 L176.0,492.07 L177.0,491.96 L178.0,492.05 L179.0,492.37 L180.0,492.60 L181.0,492.27 L182.0,491.39 L183.0,490.86 L184.0,490.66 L185.0,490.51 L186.0,490.46 L187.0,490.70 L188.0,490.80 L189.0,490.54 L190.0,490.13 L191.0,489.43 L192.0,488.19 L193.0,486.85 L194.0,485.69 L195.0,484.84 L196.0,484.83 L197.0,485.87 L198.0,487.29 L199.0,488.97 L200.0,491.45 L201.0,493.47 L202.0,493.98 L203.0,493.79 L204.0,493.40 L205.0,492.87 L206.0,492.41 L207.0,492.26 L208.0,492.46 L209.0,493.22 L210.0,493.96 L211.0,494.46 L212.0,494.69 L213.0,494.57 L214.0,494.39 L215.0,494.32 L216.0,494.34 L217.0,494.37 L218.0,494.39 L219.0,494.45 L220.0,494.60 L221.0,494.82 L222.0,495.01 L223.0,495.00 L224.0,494.64 L225.0,494.23 L226.0,493.99 L227.0,493.90 L228.0,494.13 L229.0,494.64 L230.0,494.98 L231.0,495.30 L232.0,496.40 L233.0,498.00 L234.0,498.59 L235.0,498.77 L236.0,498.73 L237.0,497.97 L238.0,496.99 L239.0,496.65 L240.0,496.79 L241.0,497.28 L242.0,497.95 L243.0,498.50 L244.0,498.48 L245.0,498.62 L246.0,499.86 L247.0,501.13 L248.0,501.83 L249.0,501.97 L250.0,501.82 L251.0,501.53 L252.0,501.17 L253.0,500.98 L254.0,501.20 L255.0,501.27 L256.0,500.77 L257.0,500.27 L258.0,500.02 L259.0,500.10 L260.0,500.37 L261.0,500.73 L262.0,501.16 L263.0,501.63 L264.0,502.19 L265.0,502.75 L266.0,503.16 L267.0,503.31 L268.0,503.12 L269.0,502.80 L270.0,502.53 L271.0,502.47 L272.0,501.97 L273.0,499.83 L274.0,497.35 L275.0,496.30 L276.0,496.26 L277.0,496.76 L278.0,497.54 L279.0,498.06 L280.0,498.21 L281.0,498.46 L282.0,498.96 L283.0,499.42 L284.0,499.54 L285.0,499.46 L286.0,499.33 L287.0,499.32 L288.0,499.58 L289.0,499.88 L290.0,500.15 L291.0,500.54 L292.0,501.04 L293.0,501.60 L294.0,502.04 L295.0,502.29 L296.0,502.46 L297.0,502.82 L298.0,503.91 L299.0,505.16 L300.0,505.49 L301.0,505.09 L302.0,504.98 L303.0,507.04 L304.0,508.00 L305.0,508.07 L306.0,507.91 L307.0,507.69 L308.0,507.46 L309.0,507.37 L310.0,507.50 L311.0,507.40 L312.0,506.49 L313.0,505.49 L314.0,505.07 L315.0,505.04 L316.0,505.41 L317.0,506.04 L318.0,505.95 L319.0,505.26 L320.0,504.57 L321.0,504.50 L322.0,504.91 L323.0,505.06 L324.0,504.62 L325.0,503.42 L326.0,502.61 L327.0,502.58 L328.0,502.86 L329.0,503.24 L330.0,503.79 L331.0,504.19 L332.0,504.15 L333.0,504.40 L334.0,505.47 L335.0,506.79 L336.0,508.07 L337.0,509.17 L338.0,510.02 L339.0,510.43 L340.0,510.52 L341.0,510.48 L342.0,510.55 L343.0,510.64 L344.0,510.55 L345.0,510.41 L346.0,510.24 L347.0,510.07 L348.0,509.96 L349.0,509.90 L350.0,509.59 L351.0,509.14 L352.0,509.33 L353.0,509.68 L354.0,509.86 L355.0,510.00 L356.0,509.99 L357.0,509.59 L358.0,509.30 L359.0,509.76 L360.0,510.74 L361.0,511.12 L362.0,510.17 L363.0,509.18 L364.0,509.18 L365.0,508.98 L366.0,508.58 L367.0,508.43 L368.0,507.93 L369.0,506.74 L370.0,505.58 L371.0,504.97 L372.0,505.20 L373.0,505.47 L374.0,505.54 L375.0,505.74 L376.0,505.92 L377.0,505.53 L378.0,505.03 L379.0,505.16 L380.0,505.40 L381.0,505.32 L382.0,504.99 L383.0,504.29 L384.0,503.42 L385.0,502.98 L386.0,502.90 L387.0,503.16 L388.0,503.72 L389.0,504.56 L390.0,505.08 L391.0,505.18 L392.0,505.74 L393.0,506.71 L394.0,506.89 L395.0,506.57 L396.0,506.21 L397.0,506.43 L398.0,507.69 L399.0,509.63 L400.0,510.93 L401.0,511.00 L402.0,511.70 L403.0,512.94 L404.0,513.50 L405.0,513.56 L406.0,513.49 L407.0,513.47 L408.0,513.60 L409.0,513.77 L410.0,514.02 L411.0,514.55 L412.0,515.12 L413.0,515.50 L414.0,515.46 L415.0,515.23 L416.0,514.98 L417.0,514.74 L418.0,514.51 L419.0,514.37 L420.0,514.45 L421.0,514.57 L422.0,514.51 L423.0,514.25 L424.0,514.10 L425.0,514.08 L426.0,513.95 L427.0,513.52 L428.0,513.02 L429.0,512.60 L430.0,512.32 L431.0,512.35 L432.0,512.66 L433.0,512.99 L434.0,512.62 L435.0,511.80 L436.0,511.53 L437.0,512.01 L438.0,513.06 L439.0,513.65 L440.0,513.71 L441.0,513.58 L442.0,513.47 L443.0,513.41 L444.0,513.04 L445.0,511.83 L446.0,510.76 L447.0,510.25 L448.0,509.99 L449.0,509.82 L450.0,509.72 L451.0,509.74 L452.0,509.71 L453.0,509.48 L454.0,509.35 L455.0,509.48 L456.0,509.48 L457.0,509.28 L458.0,509.05 L459.0,508.49 L460.0,507.20 L461.0,506.82 L462.0,507.20 L463.0,507.54 L464.0,507.72 L465.0,507.66 L466.0,507.10 L467.0,506.06 L468.0,505.63 L469.0,505.63 L470.0,505.67 L471.0,505.71 L472.0,505.71 L473.0,505.66 L474.0,505.64 L475.0,505.91 L476.0,506.12 L477.0,506.06 L478.0,506.16 L479.0,506.39 L480.0,506.54 L481.0,506.61 L482.0,506.66 L483.0,506.94 L484.0,507.47 L485.0,507.71 L486.0,507.72 L487.0,507.69 L488.0,507.65 L489.0,507.64 L490.0,507.68 L491.0,507.82 L492.0,508.15 L493.0,508.38 L494.0,508.25 L495.0,507.70 L496.0,507.36 L497.0,507.24 L498.0,506.96 L499.0,506.60 L500.0,506.70 L501.0,507.09 L502.0,507.52 L503.0,507.37 L504.0,506.22 L505.0,505.48 L506.0,505.45 L507.0,505.62 L508.0,505.52 L509.0,505.27 L510.0,505.53 L511.0,506.07 L512.0,506.41 L513.0,506.54 L514.0,506.38 L515.0,505.89 L516.0,505.08 L517.0,504.48 L518.0,504.19 L519.0,504.11 L520.0,505.61 L521.0,510.24 L522.0,512.12 L523.0,512.39 L524.0,512.60 L525.0,512.81 L526.0,513.03 L527.0,513.26 L528.0,513.51 L529.0,513.95 L530.0,514.63 L531.0,515.18 L532.0,515.34 L533.0,515.39 L534.0,515.43 L535.0,515.39 L536.0,515.29 L537.0,515.25 L538.0,515.24 L539.0,515.12 L540.0,515.00 L541.0,515.07 L542.0,515.17 L543.0,515.17 L544.0,515.12 L545.0,515.08 L546.0,515.06 L547.0,515.04 L548.0,515.03 L549.0,515.04 L550.0,515.16 L551.0,515.44 L552.0,516.05 L553.0,516.90 L554.0,518.05 L555.0,519.14 L556.0,519.57 L557.0,519.62 L558.0,519.55 L559.0,519.46 L560.0,519.49 L561.0,519.70 L562.0,519.79 L563.0,519.59 L564.0,519.40 L565.0,519.34 L566.0,519.41 L567.0,519.87 L568.0,520.59 L569.0,520.94 L570.0,520.94 L571.0,520.99 L572.0,520.90 L573.0,520.51 L574.0,519.95 L575.0,519.22 L576.0,518.57 L577.0,518.31 L578.0,518.43 L579.0,518.93 L580.0,519.66 L581.0,520.48 L582.0,521.06 L583.0,521.34 L584.0,521.52 L585.0,522.00 L586.0,523.10 L587.0,524.11 L588.0,524.59 L589.0,524.68 L590.0,524.52 L591.0,524.36 L592.0,524.32 L593.0,524.40 L594.0,524.35 L595.0,524.00 L596.0,523.85 L597.0,523.96 L598.0,524.10 L599.0,524.18 L600.0,524.25 L601.0,524.36 L602.0,524.52 L603.0,524.68 L604.0,524.80 L605.0,524.82 L606.0,524.64 L607.0,524.53 L608.0,524.68 L609.0,524.85 L610.0,524.84 L611.0,524.75 L612.0,524.60 L613.0,524.27 L614.0,523.39 L615.0,522.31 L616.0,521.71 L617.0,521.53 L618.0,521.48 L619.0,521.32 L620.0,520.74 L621.0,519.73 L622.0,518.56 L623.0,517.83 L624.0,517.37 L625.0,517.09 L626.0,517.05 L627.0,517.49 L628.0,518.28 L629.0,518.97 L630.0,519.10 L631.0,518.56 L632.0,518.06 L633.0,517.88 L634.0,517.80 L635.0,517.45 L636.0,516.87 L637.0,516.16 L638.0,515.33 L639.0,514.34 L640.0,513.34 L641.0,513.12 L642.0,515.48 L643.0,520.37 L644.0,521.05 L645.0,520.70 L646.0,520.63 L647.0,520.44 L648.0,520.09 L649.0,519.61 L650.0,519.11 L651.0,518.06 L652.0,517.74 L653.0,517.97 L654.0,518.07 L655.0,518.09 L656.0,518.03 L657.0,517.79 L658.0,516.93 L659.0,515.22 L660.0,514.31 L661.0,514.20 L662.0,514.47 L663.0,514.65 L664.0,514.51 L665.0,514.44 L666.0,514.58 L667.0,514.74 L668.0,514.82 L669.0,514.76 L670.0,514.78 L671.0,514.74 L672.0,513.69 L673.0,512.09 L674.0,512.21 L675.0,513.19 L676.0,513.98 L677.0,514.43 L678.0,514.64 L679.0,514.67 L680.0,514.39 L681.0,513.82 L682.0,513.67 L683.0,513.64 L684.0,513.30 L685.0,512.68 L686.0,512.03 L687.0,511.53 L688.0,511.25 L689.0,511.23 L690.0,511.42 L691.0,511.58 L692.0,511.70 L693.0,511.93 L694.0,512.57 L695.0,513.88 L696.0,515.24 L697.0,515.80 L698.0,515.97 L699.0,516.11 L700.0,516.20 L701.0,515.95 L702.0,515.47 L703.0,514.85 L704.0,514.24 L705.0,513.88 L706.0,513.96 L707.0,514.30 L708.0,514.75 L709.0,515.20 L710.0,515.56 L711.0,515.77 L712.0,516.01 L713.0,516.53 L714.0,516.87 L715.0,516.79 L716.0,516.27 L717.0,515.97 L718.0,516.28 L719.0,516.64 L720.0,516.70 L721.0,516.35 L722.0,516.19 L723.0,518.31 L724.0,523.64 L725.0,527.13 L726.0,528.52 L727.0,529.00 L728.0,529.11 L729.0,529.06 L730.0,529.03 L731.0,529.09 L732.0,529.36 L733.0,530.27 L734.0,531.44 L735.0,532.22 L736.0,532.03 L737.0,531.29 L738.0,531.09 L739.0,531.06 L740.0,530.73 L741.0,529.56 L742.0,527.69 L743.0,526.30 L744.0,525.75 L745.0,525.71 L746.0,525.68 L747.0,525.69 L748.0,526.09 L749.0,526.58 L750.0,526.61 L751.0,526.05 L752.0,525.51 L753.0,525.65 L754.0,526.57 L755.0,528.03 L756.0,529.84 L757.0,531.33 L758.0,531.55 L759.0,530.73 L760.0,529.67 L761.0,528.92 L762.0,528.64 L763.0,528.99 L764.0,529.52 L765.0,529.39 L766.0,529.50 L767.0,530.39 L768.0,531.46 L769.0,532.08 L770.0,532.03 L771.0,531.82 L772.0,531.45 L773.0,530.09 L774.0,527.97 L775.0,526.89 L776.0,526.80 L777.0,527.67 L778.0,529.28 L779.0,530.59 L780.0,531.19 L781.0,531.07 L782.0,530.41 L783.0,531.15 L784.0,533.99 L785.0,535.31 L786.0,535.15 L787.0,534.41 L788.0,533.43 L789.0,532.91 L790.0,532.90 L791.0,532.99 L792.0,532.99 L793.0,532.95 L794.0,532.94 L795.0,532.94 L796.0,532.95 L797.0,533.00 L798.0,533.07 L799.0,533.11 L800.0,533.13 L801.0,533.27 L802.0,533.50 L803.0,533.31 L804.0,532.33 L805.0,530.93 L806.0,530.18 L807.0,530.02 L808.0,530.13 L809.0,530.07 L810.0,529.14 L811.0,527.75 L812.0,527.35 L813.0,527.50 L814.0,527.56 L815.0,527.41 L816.0,527.30 L817.0,527.63 L818.0,528.94 L819.0,530.96 L820.0,531.88 L821.0,531.81 L822.0,530.87 L823.0,528.92 L824.0,527.06 L825.0,526.72 L826.0,528.22 L827.0,530.10 L828.0,531.14 L829.0,531.39 L830.0,531.41 L831.0,531.44 L832.0,531.38 L833.0,531.34 L834.0,532.15 L835.0,532.58 L836.0,531.52 L837.0,529.97 L838.0,529.23 L839.0,529.20 L840.0,529.37 L841.0,529.40 L842.0,528.93 L843.0,528.39 L844.0,528.39 L845.0,528.28 L846.0,527.82 L847.0,527.48 L848.0,527.32 L849.0,527.26 L850.0,527.37 L851.0,527.80 L852.0,527.94 L853.0,527.64 L854.0,527.38 L855.0,527.22 L856.0,527.05 L857.0,526.83 L858.0,526.67 L859.0,526.74 L860.0,526.86 L861.0,526.84 L862.0,526.73 L863.0,526.63 L864.0,526.69 L865.0,526.79 L866.0,526.33 L867.0,525.26 L868.0,524.25 L869.0,523.85 L870.0,523.65 L871.0,523.15 L872.0,522.38 L873.0,521.72 L874.0,521.10 L875.0,520.73 L876.0,520.79 L877.0,521.02 L878.0,521.13 L879.0,521.33 L880.0,521.78 L881.0,522.26 L882.0,522.68 L883.0,522.98 L884.0,522.98 L885.0,522.48 L886.0,521.61 L887.0,521.12 L888.0,521.17 L889.0,521.75 L890.0,523.07 L891.0,524.23 L892.0,524.66 L893.0,524.43 L894.0,524.56 L895.0,527.64 L896.0,533.57 L897.0,536.07 L898.0,536.36 L899.0,536.39 L900.0,536.88 L901.0,537.37 L902.0,537.60 L903.0,537.85 L904.0,538.35 L905.0,539.45 L906.0,541.02 L907.0,542.11 L908.0,541.88 L909.0,540.55 L910.0,539.39 L911.0,538.91 L912.0,538.73 L913.0,538.55 L914.0,538.40 L915.0,538.76 L916.0,539.17 L917.0,539.03 L918.0,538.81 L919.0,538.61 L920.0,538.35 L921.0,538.17 L922.0,538.08 L923.0,538.05 L924.0,538.04 L925.0,538.06 L926.0,538.13 L927.0,538.24 L928.0,538.25 L929.0,538.08 L930.0,537.76 L931.0,537.54 L932.0,537.66 L933.0,537.91 L934.0,538.20 L935.0,538.50 L936.0,538.81 L937.0,539.22 L938.0,540.02 L939.0,541.21 L940.0,541.74 L941.0,541.89 L942.0,542.55 L943.0,543.08 L944.0,542.86 L945.0,542.84 L946.0,543.10 L947.0,543.53 L948.0,544.38 L949.0,545.56 L950.0,546.24 L951.0,546.65 L952.0,547.96 L953.0,549.75 L954.0,550.22 L955.0,550.04" fill="none" stroke="#f5bf3d" stroke-opacity="0.85" stroke-width="0.9" stroke-linejoin="round"/>
<path d="M112.5,480.2 L955.5,480.2" fill="none" stroke="#6a5525" stroke-width="0.8"/>
<path d="M112.5,552.0 L112.5,480.2 M955.5,480.2 L955.5,552.0" fill="none" stroke="#705a26" stroke-width="1"/>
<rect x="108.64999999999999" y="510.3" width="6.9" height="12.9" rx="0.8" fill="#6b5828" stroke="#a8a9ad" stroke-width="1"/>
<rect x="110.69999999999999" y="512.7" width="2.8" height="8.1" fill="#a59870"/>
<rect x="951.75" y="510.3" width="6.9" height="12.9" rx="0.8" fill="#6b5828" stroke="#a8a9ad" stroke-width="1"/>
<rect x="953.8000000000001" y="512.7" width="2.8" height="8.1" fill="#a59870"/>
</svg>
<div class="title">Bitcoin Hashprice Index</div>
<div class="dd" style="left:213.5px;width:67.5px;"><span>USD</span><svg style="left:44.3px" width="12" height="10" viewBox="0 0 12 10"><path d="M2,3.2 L6,7 L10,3.2" fill="none" stroke="#a4a5ab" stroke-width="1.15" stroke-linecap="round" stroke-linejoin="round"/></svg></div>
<div class="dd" style="left:293.5px;width:70px;"><span>PH/s</span><svg style="left:47px" width="12" height="10" viewBox="0 0 12 10"><path d="M2,3.2 L6,7 L10,3.2" fill="none" stroke="#a4a5ab" stroke-width="1.15" stroke-linecap="round" stroke-linejoin="round"/></svg></div>
<div class="rs">
<div style="left:20.7px">1D</div><div style="left:55.2px">7D</div><div style="left:90.1px">1M</div>
<div class="act"><span>3M</span></div>
<div style="left:162.6px">1Y</div><div style="left:195.9px">5Y</div><div style="left:233.7px">ALL</div>
</div>
</div>
</body></html>
